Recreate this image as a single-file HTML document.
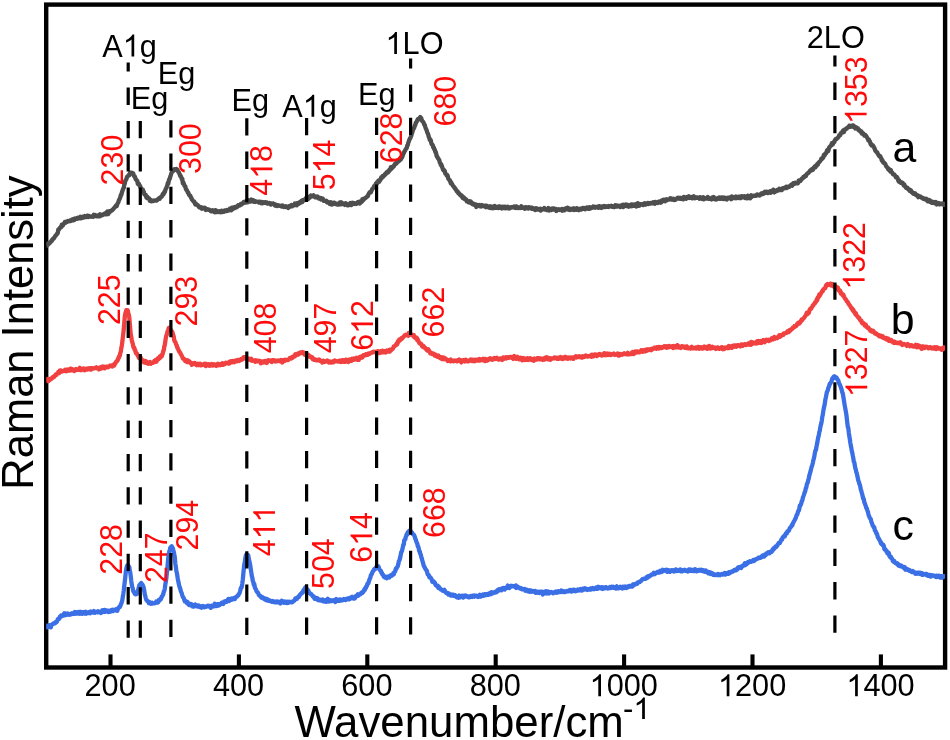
<!DOCTYPE html>
<html lang="en">
<head>
<meta charset="utf-8">
<title>Raman spectra</title>
<style>
  html, body { margin: 0; padding: 0; background: #ffffff; }
  body { width: 950px; height: 740px; overflow: hidden; font-family: "Liberation Sans", sans-serif; }
  svg { display: block; will-change: transform; }
  text { font-family: "Liberation Sans", sans-serif; }
  .tick { font-size: 30.7px; fill: #000; }
  .mode { font-size: 30.7px; fill: #000; }
  .peak { font-size: 30.4px; fill: #ff0a0a; }
  .ser  { font-size: 42.8px; fill: #000; }
  .axt  { font-size: 43.5px; fill: #000; }
  .curve { fill: none; stroke-width: 4.3; stroke-linejoin: round; stroke-linecap: butt; }
  .guide { stroke: #000; stroke-width: 3.2; fill: none; }
</style>
</head>
<body>
<svg width="950" height="740" viewBox="0 0 950 740">
<rect x="0" y="0" width="950" height="740" fill="#ffffff"/>
<defs><clipPath id="plot"><rect x="46.2" y="4.6" width="898.9" height="662.9"/></clipPath></defs>
<rect x="46.2" y="4.6" width="898.9" height="662.9" fill="none" stroke="#000" stroke-width="4.4"/>
<g clip-path="url(#plot)">
<path class="curve" stroke="#4e4e4e" d="M46.3 245.8L46.8 245.7L47.3 245.0L47.8 243.7L48.3 244.5L48.8 243.8L49.3 242.8L49.8 243.0L50.3 242.3L50.8 241.8L51.3 241.1L51.8 240.9L52.3 239.6L52.8 239.3L53.3 238.5L53.8 238.6L54.3 237.6L54.8 236.8L55.3 235.9L55.8 235.5L56.3 234.9L56.8 233.9L57.3 233.9L57.8 232.8L58.3 229.6L58.8 229.1L59.3 229.2L59.8 228.1L60.3 227.6L60.8 226.8L61.3 227.1L61.8 224.6L62.3 224.5L62.8 225.5L63.3 224.4L63.8 224.0L64.3 223.1L64.8 222.1L65.3 222.9L65.8 222.6L66.3 221.6L66.8 221.7L67.3 221.8L67.8 221.1L68.3 221.4L68.8 221.3L69.3 221.1L69.8 220.6L70.3 221.1L70.8 221.1L71.3 220.6L71.8 219.7L72.3 220.5L72.8 219.6L73.3 220.3L73.8 219.0L74.3 220.0L74.8 219.3L75.3 218.4L75.8 218.8L76.3 218.9L76.8 218.8L77.3 218.0L77.8 217.8L78.3 218.4L78.8 217.9L79.3 218.2L79.8 218.3L80.3 216.8L80.8 217.8L81.3 218.3L81.8 217.3L82.3 216.9L82.8 217.7L83.3 217.3L83.8 217.6L84.3 216.8L84.8 216.0L85.3 216.8L85.8 216.5L86.3 217.1L86.8 216.8L87.3 215.6L87.8 215.8L88.3 217.0L88.8 216.8L89.3 216.0L89.8 216.4L90.3 216.6L90.8 216.6L91.3 216.8L91.8 216.4L92.3 216.1L92.8 216.0L93.3 216.7L93.8 214.8L94.3 215.9L94.8 216.0L95.3 215.1L95.8 216.1L96.3 215.5L96.8 216.3L97.3 215.6L97.8 216.0L98.3 216.3L98.8 215.7L99.3 214.9L99.8 214.4L100.3 216.2L100.8 215.0L101.3 214.6L101.8 214.9L102.3 214.6L102.8 215.1L103.3 214.4L103.8 214.3L104.3 213.7L104.8 214.2L105.3 213.2L105.8 214.0L106.3 214.3L106.8 212.3L107.3 211.6L107.8 213.1L108.3 214.0L108.8 211.7L109.3 211.3L109.8 212.1L110.3 211.0L110.8 210.9L111.3 210.6L111.8 210.7L112.3 209.8L112.8 209.8L113.3 209.1L113.8 208.2L114.3 208.0L114.8 207.1L115.3 207.1L115.8 205.8L116.3 205.2L116.8 205.9L117.3 204.1L117.8 203.1L118.3 202.3L118.8 200.6L119.3 199.5L119.8 198.6L120.3 197.2L120.8 195.1L121.3 194.9L121.8 192.7L122.3 191.2L122.8 189.8L123.3 188.5L123.8 187.9L124.3 184.5L124.8 183.6L125.3 180.6L125.8 180.2L126.3 179.4L126.8 177.6L127.3 176.5L127.8 176.2L128.3 175.7L128.8 175.0L129.3 175.1L129.8 173.5L130.3 172.6L130.8 172.6L131.3 172.6L131.8 172.8L132.3 173.2L132.8 173.9L133.3 173.6L133.8 175.9L134.3 175.9L134.8 176.4L135.3 178.2L135.8 179.4L136.3 179.8L136.8 180.5L137.3 180.9L137.8 184.0L138.3 183.9L138.8 183.7L139.3 184.8L139.8 186.3L140.3 186.2L140.8 188.1L141.3 188.6L141.8 190.3L142.3 191.0L142.8 189.6L143.3 192.0L143.8 191.8L144.3 194.2L144.8 194.3L145.3 195.2L145.8 195.0L146.3 197.3L146.8 197.9L147.3 196.7L147.8 198.0L148.3 197.9L148.8 198.8L149.3 198.6L149.8 200.9L150.3 199.7L150.8 200.5L151.3 201.2L151.8 200.7L152.3 201.1L152.8 200.9L153.3 201.1L153.8 200.4L154.3 200.7L154.8 200.7L155.3 200.5L155.8 200.5L156.3 200.1L156.8 200.5L157.3 199.6L157.8 199.5L158.3 198.9L158.8 198.7L159.3 198.0L159.8 198.7L160.3 197.3L160.8 197.0L161.3 197.1L161.8 196.6L162.3 195.5L162.8 193.9L163.3 194.6L163.8 193.8L164.3 191.9L164.8 192.2L165.3 190.2L165.8 188.8L166.3 188.2L166.8 186.7L167.3 185.5L167.8 183.0L168.3 183.6L168.8 180.9L169.3 179.0L169.8 178.7L170.3 176.5L170.8 175.2L171.3 173.4L171.8 172.3L172.3 171.5L172.8 170.4L173.3 170.8L173.8 169.8L174.3 169.2L174.8 169.5L175.3 169.6L175.8 169.2L176.3 169.0L176.8 170.3L177.3 169.5L177.8 170.7L178.3 172.1L178.8 172.1L179.3 173.7L179.8 174.5L180.3 176.1L180.8 176.1L181.3 177.4L181.8 179.2L182.3 178.8L182.8 183.3L183.3 182.3L183.8 183.5L184.3 185.6L184.8 186.2L185.3 186.3L185.8 188.7L186.3 189.8L186.8 190.0L187.3 191.1L187.8 192.5L188.3 192.6L188.8 194.3L189.3 195.1L189.8 195.4L190.3 195.8L190.8 197.3L191.3 197.7L191.8 199.5L192.3 199.6L192.8 200.7L193.3 201.0L193.8 201.7L194.3 201.7L194.8 203.2L195.3 204.4L195.8 203.7L196.3 204.0L196.8 204.8L197.3 205.0L197.8 205.2L198.3 206.0L198.8 206.1L199.3 207.4L199.8 206.9L200.3 207.3L200.8 207.9L201.3 207.4L201.8 208.7L202.3 207.7L202.8 207.8L203.3 208.2L203.8 208.5L204.3 207.9L204.8 208.9L205.3 208.1L205.8 210.0L206.3 209.3L206.8 209.1L207.3 209.1L207.8 209.6L208.3 209.8L208.8 209.5L209.3 209.7L209.8 210.2L210.3 210.2L210.8 211.1L211.3 211.4L211.8 210.8L212.3 211.2L212.8 210.3L213.3 211.5L213.8 211.2L214.3 211.6L214.8 212.3L215.3 210.2L215.8 211.7L216.3 211.0L216.8 212.0L217.3 211.0L217.8 211.5L218.3 211.9L218.8 212.1L219.3 211.8L219.8 211.3L220.3 211.5L220.8 212.3L221.3 211.7L221.8 210.7L222.3 212.0L222.8 211.7L223.3 211.9L223.8 211.1L224.3 211.6L224.8 210.4L225.3 211.2L225.8 210.5L226.3 211.0L226.8 211.0L227.3 209.9L227.8 210.1L228.3 210.0L228.8 210.5L229.3 210.0L229.8 208.7L230.3 209.5L230.8 209.5L231.3 210.2L231.8 207.8L232.3 208.3L232.8 209.2L233.3 207.4L233.8 207.3L234.3 208.1L234.8 208.1L235.3 206.9L235.8 207.3L236.3 206.8L236.8 207.3L237.3 206.2L237.8 206.5L238.3 205.1L238.8 205.2L239.3 205.0L239.8 205.5L240.3 204.9L240.8 203.9L241.3 204.4L241.8 204.3L242.3 203.5L242.8 203.2L243.3 203.0L243.8 201.9L244.3 202.8L244.8 202.6L245.3 201.7L245.8 202.4L246.3 200.9L246.8 201.2L247.3 201.1L247.8 202.3L248.3 200.1L248.8 201.3L249.3 201.5L249.8 201.1L250.3 201.6L250.8 200.3L251.3 199.6L251.8 201.4L252.3 200.3L252.8 200.9L253.3 200.4L253.8 201.8L254.3 201.7L254.8 200.9L255.3 201.9L255.8 201.5L256.3 201.4L256.8 201.6L257.3 201.6L257.8 202.1L258.3 202.0L258.8 201.7L259.3 202.6L259.8 201.7L260.3 202.3L260.8 202.5L261.3 203.1L261.8 202.0L262.3 203.4L262.8 202.6L263.3 202.4L263.8 202.2L264.3 202.9L264.8 202.7L265.3 202.1L265.8 202.1L266.3 202.5L266.8 202.4L267.3 203.5L267.8 203.7L268.3 203.5L268.8 203.3L269.3 202.9L269.8 203.2L270.3 203.8L270.8 204.6L271.3 204.0L271.8 203.4L272.3 203.7L272.8 203.5L273.3 203.4L273.8 203.9L274.3 204.3L274.8 205.4L275.3 204.5L275.8 205.4L276.3 205.8L276.8 205.0L277.3 206.1L277.8 205.7L278.3 205.2L278.8 205.7L279.3 205.7L279.8 205.7L280.3 205.9L280.8 206.2L281.3 206.5L281.8 205.8L282.3 206.4L282.8 205.6L283.3 206.7L283.8 207.0L284.3 206.8L284.8 206.9L285.3 207.0L285.8 206.3L286.3 206.5L286.8 206.9L287.3 207.2L287.8 206.7L288.3 207.9L288.8 206.3L289.3 206.8L289.8 206.9L290.3 206.0L290.8 205.5L291.3 205.1L291.8 205.8L292.3 206.2L292.8 205.5L293.3 205.3L293.8 204.8L294.3 205.2L294.8 203.5L295.3 204.7L295.8 204.4L296.3 203.4L296.8 205.3L297.3 203.1L297.8 203.1L298.3 202.8L298.8 203.9L299.3 202.5L299.8 203.1L300.3 202.8L300.8 202.3L301.3 201.0L301.8 201.1L302.3 202.0L302.8 200.0L303.3 199.9L303.8 199.9L304.3 200.2L304.8 199.5L305.3 199.5L305.8 198.2L306.3 199.1L306.8 198.6L307.3 197.2L307.8 198.7L308.3 198.9L308.8 196.9L309.3 197.2L309.8 197.7L310.3 195.9L310.8 195.4L311.3 195.6L311.8 195.9L312.3 195.8L312.8 196.4L313.3 196.2L313.8 195.3L314.3 196.4L314.8 197.2L315.3 197.0L315.8 197.0L316.3 196.7L316.8 197.4L317.3 196.5L317.8 197.8L318.3 197.5L318.8 198.5L319.3 198.4L319.8 197.7L320.3 198.6L320.8 199.4L321.3 198.3L321.8 198.8L322.3 198.9L322.8 198.7L323.3 200.4L323.8 200.9L324.3 200.8L324.8 200.8L325.3 200.8L325.8 201.3L326.3 200.9L326.8 202.1L327.3 202.5L327.8 202.6L328.3 202.0L328.8 202.6L329.3 202.6L329.8 204.0L330.3 203.2L330.8 202.2L331.3 203.6L331.8 204.6L332.3 204.0L332.8 204.2L333.3 203.7L333.8 202.6L334.3 202.7L334.8 203.1L335.3 203.8L335.8 204.1L336.3 204.3L336.8 203.7L337.3 204.5L337.8 203.8L338.3 203.6L338.8 204.5L339.3 203.5L339.8 202.5L340.3 203.5L340.8 204.2L341.3 202.3L341.8 203.9L342.3 204.0L342.8 203.3L343.3 203.3L343.8 203.9L344.3 203.9L344.8 204.9L345.3 204.4L345.8 203.3L346.3 203.7L346.8 204.6L347.3 205.3L347.8 204.4L348.3 204.3L348.8 205.2L349.3 204.0L349.8 203.8L350.3 203.1L350.8 203.6L351.3 205.1L351.8 202.9L352.3 203.7L352.8 202.8L353.3 203.6L353.8 203.9L354.3 203.2L354.8 203.6L355.3 203.5L355.8 203.3L356.3 203.9L356.8 203.2L357.3 202.5L357.8 202.2L358.3 201.9L358.8 202.6L359.3 201.9L359.8 203.5L360.3 202.7L360.8 201.3L361.3 200.9L361.8 201.8L362.3 199.3L362.8 199.8L363.3 200.2L363.8 198.7L364.3 198.6L364.8 198.2L365.3 198.3L365.8 197.6L366.3 197.3L366.8 196.9L367.3 196.1L367.8 196.3L368.3 194.6L368.8 193.6L369.3 192.8L369.8 192.2L370.3 192.2L370.8 192.4L371.3 191.2L371.8 190.0L372.3 189.0L372.8 188.6L373.3 187.9L373.8 187.1L374.3 185.9L374.8 185.8L375.3 186.1L375.8 183.6L376.3 184.1L376.8 182.4L377.3 183.2L377.8 182.0L378.3 180.7L378.8 181.3L379.3 181.7L379.8 180.2L380.3 180.2L380.8 178.9L381.3 177.2L381.8 178.1L382.3 177.1L382.8 175.9L383.3 176.7L383.8 175.9L384.3 174.9L384.8 175.2L385.3 173.7L385.8 174.1L386.3 172.7L386.8 173.0L387.3 171.6L387.8 172.6L388.3 171.4L388.8 171.6L389.3 169.8L389.8 169.5L390.3 169.8L390.8 167.2L391.3 167.7L391.8 168.4L392.3 167.6L392.8 167.4L393.3 166.2L393.8 166.3L394.3 165.1L394.8 164.3L395.3 163.6L395.8 163.9L396.3 163.4L396.8 162.9L397.3 160.7L397.8 161.1L398.3 161.4L398.8 161.3L399.3 160.2L399.8 159.4L400.3 157.9L400.8 159.7L401.3 157.1L401.8 157.9L402.3 156.9L402.8 155.3L403.3 153.8L403.8 153.2L404.3 151.5L404.8 151.2L405.3 150.0L405.8 149.2L406.3 148.4L406.8 147.7L407.3 145.4L407.8 145.0L408.3 142.8L408.8 141.4L409.3 140.2L409.8 138.6L410.3 138.4L410.8 136.9L411.3 135.7L411.8 133.6L412.3 132.4L412.8 130.5L413.3 128.9L413.8 128.6L414.3 127.4L414.8 125.4L415.3 125.2L415.8 122.7L416.3 122.5L416.8 121.3L417.3 120.4L417.8 119.3L418.3 119.7L418.8 118.8L419.3 118.5L419.8 117.7L420.3 117.0L420.8 118.1L421.3 118.3L421.8 120.0L422.3 121.2L422.8 121.6L423.3 122.0L423.8 123.2L424.3 124.7L424.8 124.9L425.3 127.1L425.8 128.5L426.3 129.4L426.8 130.9L427.3 132.6L427.8 133.4L428.3 134.7L428.8 137.0L429.3 137.9L429.8 139.9L430.3 139.6L430.8 140.3L431.3 143.1L431.8 144.3L432.3 144.6L432.8 145.3L433.3 147.4L433.8 147.6L434.3 149.6L434.8 149.7L435.3 152.0L435.8 152.0L436.3 154.3L436.8 156.4L437.3 156.5L437.8 158.2L438.3 158.5L438.8 159.4L439.3 160.1L439.8 162.6L440.3 163.1L440.8 165.1L441.3 164.5L441.8 166.1L442.3 167.3L442.8 169.0L443.3 170.2L443.8 169.8L444.3 170.5L444.8 171.0L445.3 173.7L445.8 173.8L446.3 174.4L446.8 175.6L447.3 175.0L447.8 176.3L448.3 178.7L448.8 179.3L449.3 180.0L449.8 180.1L450.3 181.9L450.8 183.4L451.3 182.4L451.8 183.9L452.3 184.4L452.8 185.6L453.3 186.2L453.8 186.8L454.3 187.1L454.8 188.3L455.3 188.6L455.8 189.5L456.3 190.2L456.8 191.2L457.3 191.1L457.8 191.8L458.3 193.2L458.8 193.0L459.3 193.5L459.8 194.8L460.3 195.0L460.8 195.4L461.3 196.0L461.8 195.6L462.3 197.1L462.8 198.1L463.3 198.1L463.8 197.3L464.3 198.8L464.8 198.5L465.3 199.3L465.8 199.9L466.3 199.5L466.8 201.3L467.3 200.8L467.8 201.5L468.3 201.7L468.8 202.4L469.3 202.6L469.8 201.3L470.3 202.5L470.8 201.4L471.3 202.7L471.8 203.6L472.3 203.9L472.8 204.3L473.3 203.6L473.8 204.2L474.3 204.2L474.8 205.1L475.3 205.4L475.8 204.4L476.3 207.0L476.8 204.9L477.3 204.8L477.8 205.5L478.3 205.6L478.8 205.6L479.3 205.0L479.8 206.3L480.3 205.6L480.8 206.5L481.3 206.5L481.8 205.0L482.3 205.3L482.8 205.3L483.3 206.1L483.8 206.1L484.3 206.3L484.8 205.7L485.3 206.5L485.8 207.1L486.3 205.6L486.8 206.3L487.3 206.6L487.8 206.4L488.3 206.4L488.8 207.6L489.3 207.4L489.8 207.2L490.3 206.3L490.8 208.1L491.3 207.1L491.8 206.6L492.3 206.8L492.8 206.7L493.3 208.3L493.8 207.2L494.3 207.2L494.8 206.0L495.3 207.7L495.8 206.7L496.3 206.7L496.8 207.7L497.3 206.9L497.8 207.9L498.3 208.1L498.8 206.4L499.3 207.4L499.8 206.6L500.3 207.5L500.8 208.0L501.3 206.7L501.8 208.5L502.3 207.3L502.8 206.8L503.3 207.4L503.8 208.0L504.3 206.7L504.8 207.5L505.3 206.7L505.8 208.2L506.3 207.6L506.8 207.2L507.3 208.1L507.8 206.7L508.3 207.3L508.8 208.6L509.3 207.4L509.8 208.3L510.3 207.6L510.8 207.1L511.3 207.3L511.8 207.5L512.3 207.3L512.8 207.0L513.3 207.0L513.8 206.6L514.3 207.6L514.8 207.7L515.3 207.9L515.8 206.4L516.3 208.0L516.8 207.5L517.3 206.7L517.8 207.5L518.3 208.0L518.8 207.8L519.3 207.9L519.8 208.0L520.3 208.0L520.8 207.5L521.3 206.3L521.8 207.1L522.3 207.7L522.8 207.3L523.3 208.0L523.8 208.1L524.3 207.7L524.8 208.8L525.3 207.1L525.8 208.3L526.3 207.5L526.8 207.4L527.3 208.2L527.8 207.6L528.3 208.5L528.8 207.3L529.3 208.1L529.8 207.6L530.3 208.1L530.8 208.0L531.3 207.7L531.8 208.7L532.3 207.7L532.8 207.9L533.3 209.1L533.8 209.2L534.3 209.0L534.8 208.9L535.3 210.1L535.8 208.1L536.3 208.5L536.8 208.4L537.3 209.5L537.8 209.2L538.3 209.7L538.8 209.7L539.3 209.1L539.8 208.8L540.3 208.7L540.8 210.6L541.3 209.9L541.8 209.7L542.3 209.2L542.8 209.3L543.3 209.2L543.8 209.3L544.3 208.1L544.8 209.5L545.3 209.3L545.8 209.7L546.3 209.6L546.8 210.0L547.3 209.5L547.8 210.0L548.3 208.0L548.8 208.9L549.3 210.5L549.8 208.8L550.3 209.3L550.8 209.9L551.3 209.0L551.8 209.9L552.3 208.7L552.8 208.4L553.3 208.7L553.8 208.5L554.3 209.5L554.8 209.3L555.3 209.7L555.8 208.9L556.3 211.0L556.8 209.4L557.3 209.5L557.8 209.8L558.3 209.4L558.8 209.1L559.3 209.5L559.8 210.0L560.3 209.9L560.8 210.0L561.3 209.2L561.8 209.0L562.3 210.7L562.8 209.4L563.3 209.8L563.8 209.9L564.3 210.3L564.8 208.7L565.3 209.2L565.8 209.2L566.3 209.3L566.8 208.1L567.3 209.4L567.8 207.8L568.3 209.7L568.8 209.8L569.3 209.8L569.8 208.8L570.3 210.0L570.8 209.0L571.3 208.8L571.8 208.9L572.3 209.0L572.8 209.6L573.3 209.9L573.8 208.2L574.3 209.1L574.8 209.9L575.3 209.5L575.8 209.6L576.3 208.4L576.8 209.8L577.3 208.3L577.8 209.3L578.3 209.9L578.8 210.2L579.3 209.3L579.8 209.5L580.3 208.6L580.8 208.6L581.3 209.5L581.8 208.8L582.3 208.7L582.8 207.9L583.3 208.7L583.8 208.9L584.3 208.0L584.8 208.1L585.3 209.3L585.8 208.4L586.3 208.1L586.8 207.5L587.3 207.8L587.8 207.9L588.3 208.8L588.8 207.6L589.3 208.9L589.8 207.3L590.3 207.5L590.8 208.2L591.3 207.5L591.8 207.1L592.3 207.4L592.8 207.7L593.3 206.4L593.8 207.2L594.3 207.2L594.8 207.0L595.3 207.6L595.8 206.8L596.3 206.9L596.8 207.0L597.3 207.4L597.8 206.8L598.3 207.8L598.8 206.3L599.3 207.6L599.8 206.3L600.3 206.6L600.8 206.9L601.3 207.9L601.8 207.2L602.3 206.4L602.8 207.4L603.3 206.5L603.8 206.1L604.3 206.8L604.8 206.6L605.3 207.0L605.8 206.2L606.3 206.7L606.8 206.8L607.3 206.6L607.8 206.4L608.3 206.0L608.8 206.9L609.3 206.4L609.8 206.6L610.3 206.1L610.8 206.3L611.3 205.7L611.8 206.3L612.3 206.7L612.8 206.3L613.3 206.7L613.8 206.4L614.3 207.0L614.8 206.1L615.3 205.2L615.8 206.4L616.3 206.0L616.8 205.5L617.3 206.5L617.8 206.2L618.3 206.3L618.8 205.8L619.3 206.1L619.8 206.1L620.3 207.0L620.8 205.6L621.3 205.9L621.8 206.1L622.3 204.9L622.8 204.9L623.3 207.1L623.8 204.8L624.3 206.1L624.8 205.3L625.3 205.3L625.8 204.6L626.3 205.2L626.8 206.1L627.3 204.8L627.8 206.0L628.3 205.8L628.8 206.7L629.3 205.2L629.8 206.2L630.3 206.0L630.8 205.2L631.3 204.4L631.8 206.2L632.3 204.5L632.8 205.0L633.3 205.7L633.8 205.8L634.3 204.6L634.8 205.1L635.3 204.9L635.8 205.7L636.3 206.4L636.8 203.8L637.3 205.4L637.8 203.2L638.3 204.8L638.8 204.1L639.3 205.8L639.8 204.7L640.3 204.1L640.8 204.2L641.3 204.1L641.8 204.5L642.3 204.3L642.8 204.7L643.3 205.1L643.8 204.6L644.3 203.4L644.8 203.1L645.3 203.6L645.8 204.6L646.3 203.7L646.8 203.4L647.3 203.8L647.8 202.9L648.3 203.0L648.8 203.9L649.3 203.3L649.8 203.2L650.3 203.6L650.8 203.0L651.3 202.8L651.8 202.9L652.3 203.4L652.8 203.1L653.3 202.2L653.8 202.7L654.3 203.1L654.8 203.8L655.3 201.9L655.8 202.7L656.3 202.2L656.8 202.7L657.3 202.4L657.8 202.9L658.3 202.2L658.8 201.5L659.3 201.4L659.8 201.8L660.3 201.7L660.8 202.7L661.3 202.2L661.8 200.4L662.3 201.1L662.8 200.1L663.3 199.7L663.8 201.0L664.3 200.8L664.8 199.8L665.3 201.2L665.8 199.6L666.3 199.3L666.8 200.3L667.3 199.9L667.8 199.6L668.3 199.6L668.8 199.7L669.3 199.4L669.8 199.3L670.3 198.2L670.8 198.4L671.3 199.5L671.8 198.7L672.3 199.4L672.8 199.7L673.3 198.7L673.8 199.0L674.3 200.0L674.8 199.2L675.3 199.8L675.8 199.5L676.3 199.0L676.8 198.5L677.3 198.0L677.8 197.8L678.3 198.7L678.8 198.6L679.3 198.2L679.8 198.7L680.3 197.8L680.8 198.8L681.3 198.1L681.8 198.0L682.3 198.0L682.8 197.9L683.3 199.4L683.8 196.9L684.3 197.9L684.8 198.5L685.3 198.2L685.8 197.6L686.3 198.7L686.8 197.0L687.3 196.9L687.8 197.9L688.3 196.7L688.8 196.2L689.3 198.0L689.8 197.9L690.3 197.9L690.8 197.2L691.3 197.6L691.8 196.9L692.3 198.4L692.8 197.9L693.3 197.8L693.8 196.3L694.3 197.9L694.8 198.3L695.3 198.1L695.8 197.9L696.3 197.4L696.8 197.3L697.3 197.9L697.8 197.8L698.3 197.7L698.8 197.5L699.3 198.7L699.8 197.1L700.3 197.8L700.8 197.5L701.3 198.5L701.8 198.8L702.3 198.7L702.8 198.5L703.3 197.3L703.8 199.4L704.3 198.6L704.8 198.2L705.3 198.4L705.8 198.2L706.3 198.7L706.8 198.7L707.3 198.3L707.8 197.1L708.3 198.6L708.8 198.9L709.3 198.9L709.8 198.5L710.3 198.9L710.8 199.2L711.3 198.3L711.8 199.4L712.3 197.4L712.8 197.8L713.3 198.0L713.8 197.1L714.3 198.0L714.8 199.3L715.3 199.2L715.8 198.6L716.3 199.5L716.8 198.6L717.3 198.2L717.8 198.6L718.3 198.3L718.8 198.8L719.3 197.5L719.8 198.9L720.3 198.1L720.8 198.8L721.3 197.4L721.8 198.0L722.3 198.3L722.8 198.7L723.3 197.5L723.8 199.1L724.3 198.4L724.8 197.8L725.3 198.8L725.8 198.1L726.3 198.7L726.8 199.4L727.3 198.5L727.8 197.7L728.3 197.7L728.8 198.3L729.3 198.1L729.8 197.4L730.3 197.5L730.8 198.3L731.3 199.2L731.8 196.3L732.3 198.2L732.8 197.7L733.3 198.2L733.8 198.2L734.3 197.7L734.8 197.1L735.3 196.9L735.8 196.5L736.3 198.3L736.8 197.5L737.3 197.2L737.8 197.4L738.3 196.7L738.8 197.7L739.3 198.2L739.8 198.1L740.3 196.5L740.8 198.1L741.3 196.9L741.8 196.2L742.3 196.5L742.8 196.7L743.3 197.2L743.8 196.5L744.3 196.2L744.8 196.9L745.3 198.1L745.8 196.6L746.3 197.2L746.8 196.9L747.3 198.4L747.8 195.7L748.3 197.4L748.8 196.0L749.3 196.3L749.8 196.5L750.3 198.4L750.8 196.0L751.3 195.2L751.8 197.0L752.3 195.7L752.8 195.9L753.3 196.0L753.8 195.9L754.3 195.7L754.8 195.8L755.3 195.8L755.8 195.9L756.3 195.1L756.8 194.7L757.3 194.4L757.8 195.3L758.3 194.8L758.8 195.0L759.3 194.9L759.8 195.4L760.3 194.4L760.8 194.6L761.3 193.4L761.8 193.3L762.3 193.6L762.8 193.0L763.3 193.9L763.8 192.7L764.3 193.3L764.8 191.8L765.3 192.4L765.8 192.8L766.3 192.7L766.8 191.7L767.3 192.7L767.8 193.1L768.3 192.8L768.8 191.9L769.3 191.8L769.8 191.4L770.3 192.3L770.8 192.7L771.3 191.4L771.8 190.7L772.3 191.7L772.8 191.8L773.3 189.7L773.8 191.3L774.3 192.4L774.8 191.5L775.3 191.2L775.8 191.0L776.3 191.2L776.8 190.0L777.3 189.9L777.8 190.5L778.3 189.7L778.8 190.2L779.3 188.8L779.8 190.2L780.3 190.1L780.8 189.5L781.3 189.4L781.8 190.1L782.3 188.4L782.8 188.3L783.3 188.1L783.8 188.3L784.3 187.8L784.8 188.2L785.3 187.6L785.8 187.0L786.3 186.7L786.8 188.1L787.3 187.2L787.8 186.9L788.3 186.8L788.8 186.5L789.3 186.8L789.8 186.4L790.3 185.5L790.8 185.2L791.3 184.8L791.8 184.4L792.3 185.7L792.8 184.1L793.3 183.2L793.8 183.6L794.3 183.4L794.8 183.7L795.3 182.7L795.8 183.3L796.3 182.9L796.8 183.1L797.3 183.3L797.8 183.3L798.3 182.1L798.8 180.3L799.3 180.4L799.8 180.4L800.3 181.1L800.8 179.9L801.3 179.8L801.8 178.6L802.3 178.6L802.8 178.2L803.3 177.1L803.8 177.4L804.3 177.1L804.8 176.0L805.3 176.2L805.8 176.2L806.3 174.8L806.8 174.3L807.3 173.7L807.8 173.1L808.3 173.1L808.8 172.3L809.3 171.9L809.8 171.2L810.3 170.3L810.8 170.2L811.3 170.5L811.8 169.1L812.3 169.0L812.8 169.9L813.3 169.1L813.8 167.5L814.3 167.8L814.8 166.6L815.3 167.4L815.8 165.6L816.3 165.5L816.8 165.7L817.3 163.9L817.8 164.6L818.3 162.8L818.8 162.8L819.3 161.9L819.8 161.4L820.3 160.9L820.8 160.1L821.3 158.8L821.8 159.2L822.3 158.4L822.8 158.0L823.3 157.4L823.8 155.0L824.3 155.8L824.8 155.1L825.3 153.3L825.8 153.4L826.3 153.0L826.8 151.1L827.3 149.9L827.8 149.7L828.3 150.9L828.8 148.7L829.3 147.2L829.8 147.1L830.3 146.1L830.8 145.8L831.3 145.4L831.8 143.2L832.3 144.3L832.8 144.3L833.3 142.7L833.8 142.0L834.3 142.2L834.8 140.3L835.3 139.7L835.8 139.0L836.3 139.1L836.8 138.8L837.3 137.9L837.8 137.7L838.3 137.3L838.8 136.4L839.3 135.1L839.8 134.8L840.3 135.1L840.8 133.2L841.3 133.1L841.8 132.4L842.3 132.0L842.8 131.0L843.3 130.4L843.8 132.2L844.3 130.8L844.8 129.4L845.3 129.4L845.8 129.4L846.3 128.4L846.8 128.6L847.3 127.6L847.8 127.5L848.3 127.4L848.8 127.0L849.3 125.6L849.8 126.9L850.3 126.8L850.8 126.8L851.3 125.9L851.8 126.6L852.3 126.5L852.8 125.4L853.3 125.3L853.8 127.0L854.3 126.3L854.8 127.7L855.3 128.5L855.8 127.2L856.3 127.3L856.8 128.1L857.3 128.8L857.8 128.2L858.3 130.0L858.8 130.3L859.3 130.6L859.8 130.3L860.3 131.6L860.8 132.0L861.3 131.2L861.8 133.6L862.3 132.7L862.8 133.5L863.3 133.5L863.8 134.5L864.3 135.5L864.8 134.8L865.3 134.9L865.8 136.1L866.3 136.2L866.8 137.1L867.3 138.0L867.8 138.7L868.3 140.2L868.8 139.5L869.3 141.0L869.8 141.2L870.3 143.1L870.8 144.5L871.3 144.0L871.8 145.5L872.3 145.0L872.8 145.2L873.3 146.2L873.8 146.8L874.3 148.0L874.8 149.1L875.3 150.7L875.8 151.2L876.3 151.8L876.8 152.1L877.3 152.6L877.8 153.8L878.3 154.6L878.8 155.4L879.3 156.2L879.8 156.6L880.3 156.3L880.8 157.5L881.3 158.4L881.8 160.6L882.3 160.1L882.8 161.4L883.3 162.6L883.8 162.6L884.3 162.9L884.8 163.7L885.3 163.9L885.8 165.3L886.3 166.5L886.8 166.8L887.3 167.6L887.8 168.2L888.3 169.5L888.8 168.6L889.3 169.7L889.8 170.6L890.3 171.5L890.8 170.0L891.3 171.7L891.8 172.4L892.3 172.5L892.8 174.2L893.3 174.4L893.8 174.6L894.3 174.5L894.8 175.2L895.3 175.9L895.8 177.3L896.3 176.9L896.8 176.9L897.3 177.8L897.8 178.8L898.3 180.6L898.8 181.6L899.3 180.4L899.8 181.7L900.3 182.5L900.8 182.9L901.3 182.6L901.8 182.4L902.3 183.3L902.8 183.0L903.3 184.7L903.8 185.4L904.3 184.4L904.8 185.9L905.3 186.5L905.8 187.5L906.3 188.0L906.8 188.1L907.3 187.7L907.8 188.3L908.3 189.6L908.8 189.0L909.3 189.7L909.8 191.1L910.3 190.6L910.8 190.2L911.3 191.2L911.8 192.2L912.3 192.1L912.8 193.2L913.3 193.7L913.8 192.9L914.3 193.4L914.8 193.9L915.3 193.6L915.8 194.9L916.3 194.9L916.8 195.7L917.3 195.2L917.8 195.3L918.3 197.2L918.8 195.9L919.3 196.3L919.8 196.5L920.3 197.0L920.8 196.8L921.3 197.6L921.8 197.4L922.3 197.8L922.8 198.5L923.3 198.9L923.8 199.0L924.3 198.5L924.8 199.4L925.3 199.3L925.8 199.5L926.3 198.8L926.8 200.3L927.3 200.1L927.8 201.3L928.3 200.9L928.8 200.0L929.3 200.0L929.8 201.7L930.3 200.7L930.8 201.7L931.3 201.3L931.8 202.8L932.3 201.8L932.8 202.8L933.3 202.8L933.8 201.9L934.3 202.1L934.8 203.3L935.3 202.5L935.8 202.1L936.3 203.5L936.8 204.4L937.3 203.0L937.8 203.9L938.3 203.1L938.8 204.1L939.3 203.3L939.8 204.4L940.3 204.0L940.8 203.7L941.3 204.1L941.8 203.7L942.3 203.5L942.8 203.7L943.3 204.4L943.8 203.9L944.3 204.9L944.8 205.1L944.9 205.1"/>
<path class="curve" stroke="#f14040" d="M46.3 381.1L46.8 380.5L47.3 380.3L47.8 378.9L48.3 381.2L48.8 380.5L49.3 379.4L49.8 379.8L50.3 379.2L50.8 378.5L51.3 379.0L51.8 378.0L52.3 377.7L52.8 377.1L53.3 377.5L53.8 376.8L54.3 376.8L54.8 375.7L55.3 375.7L55.8 374.6L56.3 375.1L56.8 374.2L57.3 373.7L57.8 373.3L58.3 372.0L58.8 372.6L59.3 373.0L59.8 370.6L60.3 370.4L60.8 370.4L61.3 371.6L61.8 371.1L62.3 371.5L62.8 371.2L63.3 370.8L63.8 370.7L64.3 370.4L64.8 370.9L65.3 369.7L65.8 370.0L66.3 370.3L66.8 371.2L67.3 369.6L67.8 369.4L68.3 369.6L68.8 370.5L69.3 369.7L69.8 370.6L70.3 368.7L70.8 370.4L71.3 370.3L71.8 368.9L72.3 369.8L72.8 370.3L73.3 369.7L73.8 370.2L74.3 370.9L74.8 369.7L75.3 369.4L75.8 369.1L76.3 369.9L76.8 369.3L77.3 369.3L77.8 369.4L78.3 369.8L78.8 368.8L79.3 368.5L79.8 367.9L80.3 370.0L80.8 369.4L81.3 370.2L81.8 369.3L82.3 368.8L82.8 369.5L83.3 369.2L83.8 368.5L84.3 368.7L84.8 370.2L85.3 369.3L85.8 369.3L86.3 368.9L86.8 368.6L87.3 369.5L87.8 368.9L88.3 368.5L88.8 368.8L89.3 368.3L89.8 368.9L90.3 369.4L90.8 368.3L91.3 369.5L91.8 368.3L92.3 368.7L92.8 368.1L93.3 368.4L93.8 368.5L94.3 368.2L94.8 368.0L95.3 368.0L95.8 367.8L96.3 367.4L96.8 368.1L97.3 368.4L97.8 368.6L98.3 368.4L98.8 369.4L99.3 368.1L99.8 367.6L100.3 368.9L100.8 367.2L101.3 368.3L101.8 367.1L102.3 367.8L102.8 366.4L103.3 368.0L103.8 367.3L104.3 366.8L104.8 368.3L105.3 367.7L105.8 367.2L106.3 366.7L106.8 367.0L107.3 366.8L107.8 367.3L108.3 367.2L108.8 366.3L109.3 366.2L109.8 366.1L110.3 365.5L110.8 365.8L111.3 366.0L111.8 366.3L112.3 366.5L112.8 365.0L113.3 365.5L113.8 364.5L114.3 365.5L114.8 363.8L115.3 363.6L115.8 362.2L116.3 361.6L116.8 361.5L117.3 360.5L117.8 360.1L118.3 357.9L118.8 358.0L119.3 355.8L119.8 355.8L120.3 352.9L120.8 351.8L121.3 348.1L121.8 346.1L122.3 341.7L122.8 337.8L123.3 333.7L123.8 328.8L124.3 322.5L124.8 316.5L125.3 313.7L125.8 311.9L126.3 310.2L126.8 310.1L127.3 310.7L127.8 310.5L128.3 313.6L128.8 314.7L129.3 317.6L129.8 323.7L130.3 329.7L130.8 334.6L131.3 337.0L131.8 340.2L132.3 342.5L132.8 343.7L133.3 346.6L133.8 347.8L134.3 347.7L134.8 350.1L135.3 350.4L135.8 352.8L136.3 353.6L136.8 353.4L137.3 354.4L137.8 355.7L138.3 356.2L138.8 357.9L139.3 358.0L139.8 357.9L140.3 358.9L140.8 357.8L141.3 359.6L141.8 360.3L142.3 360.1L142.8 360.1L143.3 361.2L143.8 362.3L144.3 361.5L144.8 361.0L145.3 362.7L145.8 361.0L146.3 362.6L146.8 362.2L147.3 363.3L147.8 362.4L148.3 363.8L148.8 363.3L149.3 362.2L149.8 362.0L150.3 362.9L150.8 363.8L151.3 362.9L151.8 362.7L152.3 362.4L152.8 362.7L153.3 362.3L153.8 362.0L154.3 361.0L154.8 362.0L155.3 361.8L155.8 360.0L156.3 361.8L156.8 360.6L157.3 359.6L157.8 358.4L158.3 359.4L158.8 358.9L159.3 357.8L159.8 356.6L160.3 357.7L160.8 356.0L161.3 355.3L161.8 356.3L162.3 354.9L162.8 353.1L163.3 351.0L163.8 350.2L164.3 346.4L164.8 345.0L165.3 341.4L165.8 338.2L166.3 335.6L166.8 334.7L167.3 332.4L167.8 330.6L168.3 329.6L168.8 327.9L169.3 327.8L169.8 327.7L170.3 329.0L170.8 330.3L171.3 330.4L171.8 331.7L172.3 331.8L172.8 333.8L173.3 335.3L173.8 336.9L174.3 340.5L174.8 341.5L175.3 342.0L175.8 343.3L176.3 345.0L176.8 345.5L177.3 347.8L177.8 348.0L178.3 349.7L178.8 350.4L179.3 351.7L179.8 352.2L180.3 352.8L180.8 354.0L181.3 354.9L181.8 355.9L182.3 356.9L182.8 358.4L183.3 358.7L183.8 358.7L184.3 359.8L184.8 359.5L185.3 361.2L185.8 361.1L186.3 360.3L186.8 361.8L187.3 362.1L187.8 360.3L188.3 361.6L188.8 362.0L189.3 361.3L189.8 362.0L190.3 362.3L190.8 363.3L191.3 363.3L191.8 364.8L192.3 363.2L192.8 364.2L193.3 363.7L193.8 363.9L194.3 363.2L194.8 362.9L195.3 363.6L195.8 364.6L196.3 365.1L196.8 364.6L197.3 364.6L197.8 363.8L198.3 365.2L198.8 365.2L199.3 364.1L199.8 364.5L200.3 363.9L200.8 365.4L201.3 364.8L201.8 364.6L202.3 364.9L202.8 365.0L203.3 364.5L203.8 364.0L204.3 364.0L204.8 363.8L205.3 365.1L205.8 366.1L206.3 363.9L206.8 365.0L207.3 365.2L207.8 364.4L208.3 365.1L208.8 364.3L209.3 365.7L209.8 364.6L210.3 365.0L210.8 365.4L211.3 364.7L211.8 364.0L212.3 364.7L212.8 365.4L213.3 364.9L213.8 365.1L214.3 364.3L214.8 365.0L215.3 365.3L215.8 364.8L216.3 365.9L216.8 364.6L217.3 364.1L217.8 363.7L218.3 365.2L218.8 364.5L219.3 365.0L219.8 364.6L220.3 365.2L220.8 364.9L221.3 363.9L221.8 364.2L222.3 364.6L222.8 363.2L223.3 364.7L223.8 364.4L224.3 364.2L224.8 363.5L225.3 363.7L225.8 362.8L226.3 363.3L226.8 362.9L227.3 363.2L227.8 362.8L228.3 363.1L228.8 363.6L229.3 362.0L229.8 363.2L230.3 361.4L230.8 361.2L231.3 362.3L231.8 362.2L232.3 362.3L232.8 361.0L233.3 361.8L233.8 361.8L234.3 362.3L234.8 361.3L235.3 361.6L235.8 360.5L236.3 360.8L236.8 360.5L237.3 361.1L237.8 359.9L238.3 359.8L238.8 360.5L239.3 361.0L239.8 360.1L240.3 359.8L240.8 359.2L241.3 359.7L241.8 359.1L242.3 359.5L242.8 358.5L243.3 357.5L243.8 357.6L244.3 357.2L244.8 357.1L245.3 358.6L245.8 358.5L246.3 357.5L246.8 359.5L247.3 358.9L247.8 358.5L248.3 359.6L248.8 359.5L249.3 359.3L249.8 358.8L250.3 360.1L250.8 360.3L251.3 358.8L251.8 360.7L252.3 360.8L252.8 360.3L253.3 360.7L253.8 360.6L254.3 360.4L254.8 360.7L255.3 361.8L255.8 360.3L256.3 361.3L256.8 361.4L257.3 360.9L257.8 361.2L258.3 360.7L258.8 361.0L259.3 361.6L259.8 361.8L260.3 361.1L260.8 363.4L261.3 361.4L261.8 361.8L262.3 361.6L262.8 361.5L263.3 362.4L263.8 361.4L264.3 362.4L264.8 362.3L265.3 361.0L265.8 362.1L266.3 361.1L266.8 363.0L267.3 361.2L267.8 360.8L268.3 360.2L268.8 360.5L269.3 360.9L269.8 360.6L270.3 360.5L270.8 360.8L271.3 361.0L271.8 362.0L272.3 360.1L272.8 360.8L273.3 360.5L273.8 360.2L274.3 360.3L274.8 360.5L275.3 361.4L275.8 360.9L276.3 360.7L276.8 361.3L277.3 361.1L277.8 360.8L278.3 361.1L278.8 360.4L279.3 361.2L279.8 361.1L280.3 360.6L280.8 360.1L281.3 361.7L281.8 360.8L282.3 362.5L282.8 360.3L283.3 361.1L283.8 360.3L284.3 360.6L284.8 360.9L285.3 359.8L285.8 360.1L286.3 360.1L286.8 359.9L287.3 360.0L287.8 360.1L288.3 359.8L288.8 359.2L289.3 358.7L289.8 358.0L290.3 358.0L290.8 357.9L291.3 358.4L291.8 357.6L292.3 356.9L292.8 357.7L293.3 356.6L293.8 356.3L294.3 356.3L294.8 356.4L295.3 354.3L295.8 354.7L296.3 355.1L296.8 354.5L297.3 353.9L297.8 353.8L298.3 354.6L298.8 353.3L299.3 353.7L299.8 353.5L300.3 352.6L300.8 353.0L301.3 352.4L301.8 352.3L302.3 352.0L302.8 353.3L303.3 352.7L303.8 352.8L304.3 352.7L304.8 354.7L305.3 354.4L305.8 354.1L306.3 354.1L306.8 353.8L307.3 355.1L307.8 355.4L308.3 354.7L308.8 356.6L309.3 356.7L309.8 356.0L310.3 356.6L310.8 357.0L311.3 357.7L311.8 357.8L312.3 357.3L312.8 359.3L313.3 358.9L313.8 359.7L314.3 359.9L314.8 359.2L315.3 359.7L315.8 360.1L316.3 360.3L316.8 359.9L317.3 359.8L317.8 360.3L318.3 360.0L318.8 360.3L319.3 359.5L319.8 360.9L320.3 360.4L320.8 360.8L321.3 361.2L321.8 361.5L322.3 362.5L322.8 361.6L323.3 360.7L323.8 361.7L324.3 361.3L324.8 361.9L325.3 361.3L325.8 361.3L326.3 361.4L326.8 361.3L327.3 360.6L327.8 361.3L328.3 361.7L328.8 362.4L329.3 361.5L329.8 361.4L330.3 362.0L330.8 361.9L331.3 362.5L331.8 361.9L332.3 361.6L332.8 362.3L333.3 362.4L333.8 361.3L334.3 361.6L334.8 360.5L335.3 361.3L335.8 360.9L336.3 361.3L336.8 361.1L337.3 361.3L337.8 361.3L338.3 361.6L338.8 361.4L339.3 360.9L339.8 360.5L340.3 361.9L340.8 362.0L341.3 360.9L341.8 361.5L342.3 360.2L342.8 360.2L343.3 360.9L343.8 361.8L344.3 360.3L344.8 360.4L345.3 361.8L345.8 359.7L346.3 361.1L346.8 360.9L347.3 360.5L347.8 360.6L348.3 362.0L348.8 359.7L349.3 360.1L349.8 360.1L350.3 359.8L350.8 359.3L351.3 360.9L351.8 360.0L352.3 358.8L352.8 359.3L353.3 359.9L353.8 359.8L354.3 358.6L354.8 359.3L355.3 359.4L355.8 359.3L356.3 359.2L356.8 357.8L357.3 359.8L357.8 358.7L358.3 359.4L358.8 359.8L359.3 357.9L359.8 357.0L360.3 358.0L360.8 357.2L361.3 356.8L361.8 356.2L362.3 357.6L362.8 356.1L363.3 355.3L363.8 355.6L364.3 355.0L364.8 355.5L365.3 354.9L365.8 354.4L366.3 355.1L366.8 354.2L367.3 354.8L367.8 354.8L368.3 353.7L368.8 353.3L369.3 353.5L369.8 353.7L370.3 353.0L370.8 352.9L371.3 352.6L371.8 352.6L372.3 352.7L372.8 351.8L373.3 351.8L373.8 352.1L374.3 351.7L374.8 352.1L375.3 352.3L375.8 352.0L376.3 351.6L376.8 351.5L377.3 353.0L377.8 352.5L378.3 351.3L378.8 351.5L379.3 353.0L379.8 352.8L380.3 352.0L380.8 352.6L381.3 351.0L381.8 351.9L382.3 352.3L382.8 350.8L383.3 351.4L383.8 352.2L384.3 352.4L384.8 351.3L385.3 351.8L385.8 352.4L386.3 351.2L386.8 350.5L387.3 351.1L387.8 350.7L388.3 351.5L388.8 350.7L389.3 349.9L389.8 351.6L390.3 349.7L390.8 350.0L391.3 349.9L391.8 349.7L392.3 348.9L392.8 348.7L393.3 347.8L393.8 346.5L394.3 346.6L394.8 346.1L395.3 345.6L395.8 345.2L396.3 344.1L396.8 344.6L397.3 344.2L397.8 341.4L398.3 342.1L398.8 341.1L399.3 339.4L399.8 340.6L400.3 339.5L400.8 339.1L401.3 338.3L401.8 338.8L402.3 338.4L402.8 337.3L403.3 337.1L403.8 336.2L404.3 336.0L404.8 335.2L405.3 335.4L405.8 334.7L406.3 335.1L406.8 335.2L407.3 334.7L407.8 335.1L408.3 335.8L408.8 333.0L409.3 334.2L409.8 334.0L410.3 334.2L410.8 333.9L411.3 334.9L411.8 335.0L412.3 335.1L412.8 335.7L413.3 335.8L413.8 335.1L414.3 337.4L414.8 337.0L415.3 337.1L415.8 338.3L416.3 338.3L416.8 337.9L417.3 340.3L417.8 339.4L418.3 340.8L418.8 341.7L419.3 343.0L419.8 343.5L420.3 343.4L420.8 343.5L421.3 344.2L421.8 345.5L422.3 346.4L422.8 346.1L423.3 345.9L423.8 347.4L424.3 347.0L424.8 347.4L425.3 348.0L425.8 348.9L426.3 349.2L426.8 350.0L427.3 350.6L427.8 350.6L428.3 349.3L428.8 350.1L429.3 351.5L429.8 351.8L430.3 353.4L430.8 352.5L431.3 352.8L431.8 353.7L432.3 354.1L432.8 353.6L433.3 354.3L433.8 353.7L434.3 354.1L434.8 355.6L435.3 354.4L435.8 356.0L436.3 356.1L436.8 356.4L437.3 356.8L437.8 356.8L438.3 355.5L438.8 356.3L439.3 356.8L439.8 357.9L440.3 356.9L440.8 357.3L441.3 357.7L441.8 358.9L442.3 357.4L442.8 357.7L443.3 359.0L443.8 357.6L444.3 359.2L444.8 358.9L445.3 358.4L445.8 359.3L446.3 359.1L446.8 359.9L447.3 360.2L447.8 361.0L448.3 360.2L448.8 360.4L449.3 360.1L449.8 360.5L450.3 361.2L450.8 359.5L451.3 361.1L451.8 360.4L452.3 360.7L452.8 360.9L453.3 361.2L453.8 360.8L454.3 360.5L454.8 360.9L455.3 360.7L455.8 360.6L456.3 360.8L456.8 361.2L457.3 360.8L457.8 360.8L458.3 359.9L458.8 360.6L459.3 359.6L459.8 361.1L460.3 360.1L460.8 361.4L461.3 362.4L461.8 360.4L462.3 361.4L462.8 360.8L463.3 360.3L463.8 360.1L464.3 360.9L464.8 361.4L465.3 360.8L465.8 359.7L466.3 359.9L466.8 360.4L467.3 361.3L467.8 360.7L468.3 360.7L468.8 361.2L469.3 360.3L469.8 360.4L470.3 360.3L470.8 359.4L471.3 360.7L471.8 360.6L472.3 361.0L472.8 359.7L473.3 359.9L473.8 360.9L474.3 360.5L474.8 361.1L475.3 359.8L475.8 360.4L476.3 359.8L476.8 360.4L477.3 359.9L477.8 360.5L478.3 360.7L478.8 360.5L479.3 359.0L479.8 360.6L480.3 360.2L480.8 359.3L481.3 359.4L481.8 359.9L482.3 360.2L482.8 359.5L483.3 358.8L483.8 359.9L484.3 359.8L484.8 361.1L485.3 358.9L485.8 361.0L486.3 360.5L486.8 359.7L487.3 360.4L487.8 359.5L488.3 360.0L488.8 358.9L489.3 359.4L489.8 358.7L490.3 358.3L490.8 359.0L491.3 358.8L491.8 359.5L492.3 359.8L492.8 359.0L493.3 359.1L493.8 359.1L494.3 358.0L494.8 359.1L495.3 358.9L495.8 358.9L496.3 358.2L496.8 357.7L497.3 358.7L497.8 358.9L498.3 359.5L498.8 359.3L499.3 359.5L499.8 358.8L500.3 359.2L500.8 358.4L501.3 358.8L501.8 358.9L502.3 359.9L502.8 358.4L503.3 357.4L503.8 358.9L504.3 357.6L504.8 357.9L505.3 357.7L505.8 357.3L506.3 358.5L506.8 358.0L507.3 357.2L507.8 357.6L508.3 357.2L508.8 357.8L509.3 357.2L509.8 357.0L510.3 357.0L510.8 357.2L511.3 357.6L511.8 356.9L512.3 357.4L512.8 357.8L513.3 358.9L513.8 358.1L514.3 356.0L514.8 357.5L515.3 357.6L515.8 358.1L516.3 358.9L516.8 358.5L517.3 356.8L517.8 358.4L518.3 358.4L518.8 358.7L519.3 359.3L519.8 358.0L520.3 359.3L520.8 357.8L521.3 358.8L521.8 359.1L522.3 360.3L522.8 358.6L523.3 358.0L523.8 359.5L524.3 358.7L524.8 360.0L525.3 358.7L525.8 358.6L526.3 359.8L526.8 359.1L527.3 359.7L527.8 358.3L528.3 360.0L528.8 358.7L529.3 359.6L529.8 358.5L530.3 358.2L530.8 358.9L531.3 359.2L531.8 360.0L532.3 359.2L532.8 359.5L533.3 359.4L533.8 360.8L534.3 358.5L534.8 359.7L535.3 358.9L535.8 359.1L536.3 358.7L536.8 359.6L537.3 358.2L537.8 358.2L538.3 358.8L538.8 358.2L539.3 359.3L539.8 359.4L540.3 358.4L540.8 359.3L541.3 358.5L541.8 358.8L542.3 358.8L542.8 359.9L543.3 358.8L543.8 358.3L544.3 358.2L544.8 359.5L545.3 357.8L545.8 358.5L546.3 358.5L546.8 357.3L547.3 358.4L547.8 359.3L548.3 358.8L548.8 358.1L549.3 359.0L549.8 358.9L550.3 359.8L550.8 358.2L551.3 358.4L551.8 358.6L552.3 358.5L552.8 358.6L553.3 358.5L553.8 358.1L554.3 357.6L554.8 358.1L555.3 357.6L555.8 357.8L556.3 358.1L556.8 358.7L557.3 358.9L557.8 357.7L558.3 358.5L558.8 358.8L559.3 358.3L559.8 357.3L560.3 357.0L560.8 358.7L561.3 358.7L561.8 358.3L562.3 357.5L562.8 359.0L563.3 358.8L563.8 358.0L564.3 357.9L564.8 356.9L565.3 358.4L565.8 357.0L566.3 358.3L566.8 358.3L567.3 357.9L567.8 358.8L568.3 357.6L568.8 358.1L569.3 358.2L569.8 357.9L570.3 357.5L570.8 358.4L571.3 357.9L571.8 357.5L572.3 357.5L572.8 357.6L573.3 358.9L573.8 357.6L574.3 357.3L574.8 356.8L575.3 356.7L575.8 356.3L576.3 357.5L576.8 357.3L577.3 356.7L577.8 356.4L578.3 357.0L578.8 356.8L579.3 356.3L579.8 357.2L580.3 357.1L580.8 356.9L581.3 357.4L581.8 356.5L582.3 357.6L582.8 356.2L583.3 357.0L583.8 357.0L584.3 356.4L584.8 356.7L585.3 355.7L585.8 355.5L586.3 356.2L586.8 355.9L587.3 356.6L587.8 356.2L588.3 356.5L588.8 356.2L589.3 356.1L589.8 356.0L590.3 355.6L590.8 355.5L591.3 356.9L591.8 354.7L592.3 355.5L592.8 356.2L593.3 355.8L593.8 356.3L594.3 355.7L594.8 354.6L595.3 355.1L595.8 354.5L596.3 355.8L596.8 356.0L597.3 354.9L597.8 355.4L598.3 354.8L598.8 354.2L599.3 354.7L599.8 354.0L600.3 354.6L600.8 355.0L601.3 355.3L601.8 355.6L602.3 354.6L602.8 354.9L603.3 355.0L603.8 355.1L604.3 353.1L604.8 354.3L605.3 355.2L605.8 354.0L606.3 354.8L606.8 355.1L607.3 353.5L607.8 354.5L608.3 354.8L608.8 354.6L609.3 353.7L609.8 354.8L610.3 354.2L610.8 355.0L611.3 354.8L611.8 354.2L612.3 354.6L612.8 354.1L613.3 354.1L613.8 353.6L614.3 354.3L614.8 354.9L615.3 354.5L615.8 354.4L616.3 354.1L616.8 354.1L617.3 354.8L617.8 353.5L618.3 355.6L618.8 354.3L619.3 355.6L619.8 355.0L620.3 354.1L620.8 354.7L621.3 354.4L621.8 354.5L622.3 354.7L622.8 353.9L623.3 353.8L623.8 353.9L624.3 353.3L624.8 354.0L625.3 354.2L625.8 354.2L626.3 354.1L626.8 353.8L627.3 354.4L627.8 352.7L628.3 353.6L628.8 353.6L629.3 354.3L629.8 354.1L630.3 354.1L630.8 353.6L631.3 354.0L631.8 352.8L632.3 353.4L632.8 352.0L633.3 354.1L633.8 354.0L634.3 352.6L634.8 352.4L635.3 351.5L635.8 351.8L636.3 352.6L636.8 352.4L637.3 351.5L637.8 352.0L638.3 351.8L638.8 352.3L639.3 352.4L639.8 351.7L640.3 351.8L640.8 351.6L641.3 350.3L641.8 351.6L642.3 351.3L642.8 351.7L643.3 350.1L643.8 351.4L644.3 350.5L644.8 350.9L645.3 351.3L645.8 349.6L646.3 349.6L646.8 350.8L647.3 349.4L647.8 349.3L648.3 350.1L648.8 349.5L649.3 349.9L649.8 349.5L650.3 349.2L650.8 349.6L651.3 350.2L651.8 348.7L652.3 349.5L652.8 349.2L653.3 348.5L653.8 348.6L654.3 347.7L654.8 347.8L655.3 348.2L655.8 348.0L656.3 348.7L656.8 347.1L657.3 347.7L657.8 347.4L658.3 347.7L658.8 348.4L659.3 347.0L659.8 348.1L660.3 347.2L660.8 347.3L661.3 348.1L661.8 347.3L662.3 347.8L662.8 347.4L663.3 347.2L663.8 347.1L664.3 346.2L664.8 346.8L665.3 347.3L665.8 347.3L666.3 346.2L666.8 347.7L667.3 347.4L667.8 346.3L668.3 346.4L668.8 347.3L669.3 345.9L669.8 346.5L670.3 346.9L670.8 346.8L671.3 346.8L671.8 347.1L672.3 346.3L672.8 346.5L673.3 348.0L673.8 346.0L674.3 346.5L674.8 346.8L675.3 346.4L675.8 347.4L676.3 346.8L676.8 347.2L677.3 345.2L677.8 347.4L678.3 347.4L678.8 346.3L679.3 347.5L679.8 347.0L680.3 347.4L680.8 347.9L681.3 346.9L681.8 346.3L682.3 346.9L682.8 346.3L683.3 346.6L683.8 346.6L684.3 346.7L684.8 347.8L685.3 347.7L685.8 346.7L686.3 347.9L686.8 346.4L687.3 347.0L687.8 347.3L688.3 348.2L688.8 347.9L689.3 347.8L689.8 348.4L690.3 348.1L690.8 348.5L691.3 347.3L691.8 346.8L692.3 347.5L692.8 348.3L693.3 348.0L693.8 348.4L694.3 348.3L694.8 348.2L695.3 348.4L695.8 347.5L696.3 348.6L696.8 347.4L697.3 347.9L697.8 347.1L698.3 348.2L698.8 347.0L699.3 348.7L699.8 347.1L700.3 348.0L700.8 347.8L701.3 347.3L701.8 348.5L702.3 347.5L702.8 348.6L703.3 347.1L703.8 347.2L704.3 346.5L704.8 348.0L705.3 348.1L705.8 347.7L706.3 347.5L706.8 347.0L707.3 348.9L707.8 347.9L708.3 346.4L708.8 347.3L709.3 346.0L709.8 348.4L710.3 348.6L710.8 348.3L711.3 347.5L711.8 347.2L712.3 346.7L712.8 347.9L713.3 347.2L713.8 347.5L714.3 347.4L714.8 347.6L715.3 348.4L715.8 348.9L716.3 348.0L716.8 348.0L717.3 347.4L717.8 347.4L718.3 347.5L718.8 348.7L719.3 348.3L719.8 348.7L720.3 348.4L720.8 347.9L721.3 347.4L721.8 347.9L722.3 347.3L722.8 349.2L723.3 348.2L723.8 347.8L724.3 349.1L724.8 347.6L725.3 348.1L725.8 347.6L726.3 347.9L726.8 347.4L727.3 347.8L727.8 348.3L728.3 346.6L728.8 346.0L729.3 348.0L729.8 347.2L730.3 347.5L730.8 346.7L731.3 347.7L731.8 347.8L732.3 346.0L732.8 347.0L733.3 346.1L733.8 345.5L734.3 346.1L734.8 346.6L735.3 345.4L735.8 345.3L736.3 346.7L736.8 346.0L737.3 346.1L737.8 345.1L738.3 345.3L738.8 345.7L739.3 345.7L739.8 345.6L740.3 346.4L740.8 345.4L741.3 344.4L741.8 344.7L742.3 345.1L742.8 345.8L743.3 344.5L743.8 344.6L744.3 344.8L744.8 344.3L745.3 344.1L745.8 344.4L746.3 345.0L746.8 344.7L747.3 344.1L747.8 344.4L748.3 343.4L748.8 344.6L749.3 344.4L749.8 344.0L750.3 342.8L750.8 344.9L751.3 341.9L751.8 342.9L752.3 342.9L752.8 343.7L753.3 342.4L753.8 343.3L754.3 343.0L754.8 342.8L755.3 343.4L755.8 343.6L756.3 342.9L756.8 342.4L757.3 341.1L757.8 343.2L758.3 342.1L758.8 341.1L759.3 342.2L759.8 342.8L760.3 341.8L760.8 341.1L761.3 343.0L761.8 341.9L762.3 341.7L762.8 341.9L763.3 340.0L763.8 341.1L764.3 340.9L764.8 342.2L765.3 340.5L765.8 340.3L766.3 339.7L766.8 339.9L767.3 340.2L767.8 340.3L768.3 339.9L768.8 341.1L769.3 340.1L769.8 340.0L770.3 340.3L770.8 339.7L771.3 338.9L771.8 338.2L772.3 339.1L772.8 338.3L773.3 339.4L773.8 338.0L774.3 337.0L774.8 338.1L775.3 338.6L775.8 337.6L776.3 337.7L776.8 337.4L777.3 338.2L777.8 337.1L778.3 336.7L778.8 336.2L779.3 335.3L779.8 336.9L780.3 336.5L780.8 335.1L781.3 335.7L781.8 335.3L782.3 334.7L782.8 334.4L783.3 334.8L783.8 333.4L784.3 333.5L784.8 333.5L785.3 333.3L785.8 332.9L786.3 332.9L786.8 332.7L787.3 331.6L787.8 331.9L788.3 331.2L788.8 332.1L789.3 330.1L789.8 330.4L790.3 330.6L790.8 329.7L791.3 329.3L791.8 328.8L792.3 328.9L792.8 327.7L793.3 327.9L793.8 327.5L794.3 326.3L794.8 326.9L795.3 326.0L795.8 326.0L796.3 325.9L796.8 325.1L797.3 323.8L797.8 324.2L798.3 322.6L798.8 322.6L799.3 323.5L799.8 322.1L800.3 322.5L800.8 321.0L801.3 320.6L801.8 319.4L802.3 320.0L802.8 318.8L803.3 318.7L803.8 318.0L804.3 317.5L804.8 316.8L805.3 315.9L805.8 315.3L806.3 314.3L806.8 312.8L807.3 313.7L807.8 314.0L808.3 312.7L808.8 312.8L809.3 311.0L809.8 309.5L810.3 308.8L810.8 309.1L811.3 308.2L811.8 307.2L812.3 307.0L812.8 305.3L813.3 305.4L813.8 304.2L814.3 303.7L814.8 303.5L815.3 301.9L815.8 302.0L816.3 301.2L816.8 299.2L817.3 300.2L817.8 297.4L818.3 297.3L818.8 297.0L819.3 294.5L819.8 295.6L820.3 294.9L820.8 293.4L821.3 292.8L821.8 292.0L822.3 291.0L822.8 291.0L823.3 289.4L823.8 289.0L824.3 288.6L824.8 288.4L825.3 288.0L825.8 285.9L826.3 285.0L826.8 285.6L827.3 285.1L827.8 284.1L828.3 284.6L828.8 284.6L829.3 284.3L829.8 285.1L830.3 283.6L830.8 284.3L831.3 285.6L831.8 285.0L832.3 284.1L832.8 285.1L833.3 285.9L833.8 286.7L834.3 286.1L834.8 286.7L835.3 285.7L835.8 286.6L836.3 287.8L836.8 287.1L837.3 288.1L837.8 287.6L838.3 290.2L838.8 289.8L839.3 290.9L839.8 290.3L840.3 291.0L840.8 293.5L841.3 292.9L841.8 293.4L842.3 294.7L842.8 295.4L843.3 294.6L843.8 295.9L844.3 297.3L844.8 298.1L845.3 299.0L845.8 299.4L846.3 300.2L846.8 301.3L847.3 301.6L847.8 302.2L848.3 303.2L848.8 304.2L849.3 304.8L849.8 305.4L850.3 306.2L850.8 307.1L851.3 308.0L851.8 308.8L852.3 308.5L852.8 310.5L853.3 309.7L853.8 311.7L854.3 311.7L854.8 313.1L855.3 314.1L855.8 313.1L856.3 315.2L856.8 315.7L857.3 315.9L857.8 317.0L858.3 317.1L858.8 318.1L859.3 318.0L859.8 319.7L860.3 320.2L860.8 320.8L861.3 320.6L861.8 322.6L862.3 323.3L862.8 322.6L863.3 323.0L863.8 323.6L864.3 324.7L864.8 325.5L865.3 325.0L865.8 324.7L866.3 326.7L866.8 326.9L867.3 327.4L867.8 328.1L868.3 327.6L868.8 328.7L869.3 328.9L869.8 329.7L870.3 330.6L870.8 330.2L871.3 330.1L871.8 331.7L872.3 331.7L872.8 331.5L873.3 330.9L873.8 331.8L874.3 332.7L874.8 333.3L875.3 333.0L875.8 333.8L876.3 333.5L876.8 333.9L877.3 334.8L877.8 334.6L878.3 335.1L878.8 335.8L879.3 336.2L879.8 335.5L880.3 336.0L880.8 335.6L881.3 335.9L881.8 337.0L882.3 336.8L882.8 336.3L883.3 337.9L883.8 337.4L884.3 337.9L884.8 338.6L885.3 338.8L885.8 338.8L886.3 337.9L886.8 339.6L887.3 339.1L887.8 338.8L888.3 338.6L888.8 340.8L889.3 340.3L889.8 340.5L890.3 341.0L890.8 340.8L891.3 340.1L891.8 341.5L892.3 341.9L892.8 341.8L893.3 342.5L893.8 342.9L894.3 341.5L894.8 341.8L895.3 342.7L895.8 342.5L896.3 342.6L896.8 343.2L897.3 343.2L897.8 342.7L898.3 343.1L898.8 342.8L899.3 343.2L899.8 342.8L900.3 342.4L900.8 343.4L901.3 343.4L901.8 344.4L902.3 344.9L902.8 344.1L903.3 344.5L903.8 344.0L904.3 343.9L904.8 344.4L905.3 344.5L905.8 344.9L906.3 344.9L906.8 345.9L907.3 344.9L907.8 344.1L908.3 345.3L908.8 344.9L909.3 345.5L909.8 346.1L910.3 345.2L910.8 345.6L911.3 346.0L911.8 345.2L912.3 346.0L912.8 346.2L913.3 346.5L913.8 346.7L914.3 346.5L914.8 346.5L915.3 345.5L915.8 344.8L916.3 345.9L916.8 347.3L917.3 346.6L917.8 345.3L918.3 346.5L918.8 347.0L919.3 345.7L919.8 347.2L920.3 346.3L920.8 347.6L921.3 347.1L921.8 348.9L922.3 346.4L922.8 347.4L923.3 346.4L923.8 348.0L924.3 347.4L924.8 347.9L925.3 347.5L925.8 346.8L926.3 347.1L926.8 346.8L927.3 347.0L927.8 347.7L928.3 348.3L928.8 348.2L929.3 348.0L929.8 347.4L930.3 348.1L930.8 347.3L931.3 348.0L931.8 348.4L932.3 347.8L932.8 347.7L933.3 347.7L933.8 348.4L934.3 347.8L934.8 347.2L935.3 347.8L935.8 347.5L936.3 349.0L936.8 348.2L937.3 347.3L937.8 348.4L938.3 348.7L938.8 348.5L939.3 348.1L939.8 348.4L940.3 348.5L940.8 349.0L941.3 348.6L941.8 349.8L942.3 348.4L942.8 349.4L943.3 348.6L943.8 347.6L944.3 348.0L944.8 347.6L944.9 347.7"/>
<path class="curve" stroke="#3b6fe6" d="M46.3 628.5L46.8 625.7L47.3 627.3L47.8 626.6L48.3 626.4L48.8 626.4L49.3 625.1L49.8 625.9L50.3 625.3L50.8 627.4L51.3 625.4L51.8 624.7L52.3 624.4L52.8 623.9L53.3 623.3L53.8 623.4L54.3 623.5L54.8 622.8L55.3 623.1L55.8 622.0L56.3 621.6L56.8 621.8L57.3 620.6L57.8 619.3L58.3 618.8L58.8 618.5L59.3 618.7L59.8 616.8L60.3 616.3L60.8 616.7L61.3 615.3L61.8 615.4L62.3 616.0L62.8 615.6L63.3 615.2L63.8 615.4L64.3 613.3L64.8 615.4L65.3 614.1L65.8 613.6L66.3 614.6L66.8 614.8L67.3 614.0L67.8 613.6L68.3 614.1L68.8 614.0L69.3 614.8L69.8 614.4L70.3 614.0L70.8 614.5L71.3 613.6L71.8 613.2L72.3 614.0L72.8 613.9L73.3 613.4L73.8 613.0L74.3 613.6L74.8 612.0L75.3 613.8L75.8 613.6L76.3 612.3L76.8 613.3L77.3 612.7L77.8 613.6L78.3 612.0L78.8 612.6L79.3 613.5L79.8 613.7L80.3 611.8L80.8 612.7L81.3 613.2L81.8 612.6L82.3 613.8L82.8 612.2L83.3 613.1L83.8 612.2L84.3 613.6L84.8 612.8L85.3 612.5L85.8 611.7L86.3 613.7L86.8 613.1L87.3 613.1L87.8 613.2L88.3 612.8L88.8 612.2L89.3 612.0L89.8 612.0L90.3 613.2L90.8 611.5L91.3 612.0L91.8 612.1L92.3 612.4L92.8 612.6L93.3 611.5L93.8 611.1L94.3 612.1L94.8 612.8L95.3 612.5L95.8 612.1L96.3 611.8L96.8 612.1L97.3 611.7L97.8 612.3L98.3 611.3L98.8 611.8L99.3 611.7L99.8 612.0L100.3 611.8L100.8 613.1L101.3 612.4L101.8 612.4L102.3 610.3L102.8 611.2L103.3 611.0L103.8 611.6L104.3 609.9L104.8 611.9L105.3 611.8L105.8 610.3L106.3 610.5L106.8 610.5L107.3 611.0L107.8 611.3L108.3 612.0L108.8 610.7L109.3 611.2L109.8 610.8L110.3 611.7L110.8 611.0L111.3 611.3L111.8 609.9L112.3 610.3L112.8 609.9L113.3 611.1L113.8 610.6L114.3 609.9L114.8 609.7L115.3 610.2L115.8 609.4L116.3 609.1L116.8 609.8L117.3 610.8L117.8 609.0L118.3 608.5L118.8 607.6L119.3 606.8L119.8 607.0L120.3 606.2L120.8 604.5L121.3 603.5L121.8 602.0L122.3 600.3L122.8 596.7L123.3 593.8L123.8 590.2L124.3 585.6L124.8 581.6L125.3 576.9L125.8 572.0L126.3 568.9L126.8 566.5L127.3 565.3L127.8 565.3L128.3 565.5L128.8 567.4L129.3 567.0L129.8 570.7L130.3 572.8L130.8 576.8L131.3 581.1L131.8 584.7L132.3 587.1L132.8 588.6L133.3 591.3L133.8 591.8L134.3 592.8L134.8 593.7L135.3 592.8L135.8 594.3L136.3 593.5L136.8 593.9L137.3 592.4L137.8 591.1L138.3 589.4L138.8 587.6L139.3 585.3L139.8 584.9L140.3 583.9L140.8 584.3L141.3 583.0L141.8 584.4L142.3 584.3L142.8 585.2L143.3 586.5L143.8 588.1L144.3 591.2L144.8 594.3L145.3 596.1L145.8 598.3L146.3 600.0L146.8 600.2L147.3 601.0L147.8 601.4L148.3 601.3L148.8 603.1L149.3 601.9L149.8 603.4L150.3 603.1L150.8 603.8L151.3 603.2L151.8 602.8L152.3 603.5L152.8 603.0L153.3 603.3L153.8 603.4L154.3 603.3L154.8 603.2L155.3 602.7L155.8 602.9L156.3 601.5L156.8 602.4L157.3 601.5L157.8 602.5L158.3 602.2L158.8 599.9L159.3 600.7L159.8 600.1L160.3 599.1L160.8 599.4L161.3 598.0L161.8 596.4L162.3 596.2L162.8 595.1L163.3 593.9L163.8 591.7L164.3 590.9L164.8 588.6L165.3 584.6L165.8 581.6L166.3 578.5L166.8 573.6L167.3 569.4L167.8 562.9L168.3 557.7L168.8 554.3L169.3 551.5L169.8 550.4L170.3 547.7L170.8 547.0L171.3 546.7L171.8 546.3L172.3 548.4L172.8 548.0L173.3 550.4L173.8 551.9L174.3 554.6L174.8 557.3L175.3 563.3L175.8 566.6L176.3 570.4L176.8 572.7L177.3 575.6L177.8 578.9L178.3 581.6L178.8 583.7L179.3 586.1L179.8 587.7L180.3 588.9L180.8 591.0L181.3 592.4L181.8 593.4L182.3 595.3L182.8 596.9L183.3 597.5L183.8 598.2L184.3 599.8L184.8 601.3L185.3 600.7L185.8 601.3L186.3 601.7L186.8 603.0L187.3 601.7L187.8 603.3L188.3 604.2L188.8 603.4L189.3 605.0L189.8 604.7L190.3 604.3L190.8 605.0L191.3 604.1L191.8 604.8L192.3 606.3L192.8 604.9L193.3 606.6L193.8 605.6L194.3 606.3L194.8 605.8L195.3 604.6L195.8 605.7L196.3 606.2L196.8 605.5L197.3 605.5L197.8 606.5L198.3 606.0L198.8 605.5L199.3 606.1L199.8 607.1L200.3 606.3L200.8 607.2L201.3 607.6L201.8 606.7L202.3 606.1L202.8 606.0L203.3 606.8L203.8 607.3L204.3 607.0L204.8 607.1L205.3 606.5L205.8 606.9L206.3 606.5L206.8 606.5L207.3 605.9L207.8 605.7L208.3 606.3L208.8 605.9L209.3 605.9L209.8 606.8L210.3 606.3L210.8 607.9L211.3 606.7L211.8 605.7L212.3 606.4L212.8 606.1L213.3 605.4L213.8 606.4L214.3 605.2L214.8 603.8L215.3 605.9L215.8 605.0L216.3 606.1L216.8 604.7L217.3 604.3L217.8 605.8L218.3 604.1L218.8 604.7L219.3 605.2L219.8 604.2L220.3 603.9L220.8 603.8L221.3 604.0L221.8 602.8L222.3 603.4L222.8 603.1L223.3 603.9L223.8 602.1L224.3 601.5L224.8 602.2L225.3 601.3L225.8 601.5L226.3 601.2L226.8 601.6L227.3 600.3L227.8 600.4L228.3 598.9L228.8 599.7L229.3 600.9L229.8 599.5L230.3 599.3L230.8 598.9L231.3 599.8L231.8 599.4L232.3 598.5L232.8 599.4L233.3 598.9L233.8 599.0L234.3 598.0L234.8 599.1L235.3 598.0L235.8 597.4L236.3 596.8L236.8 596.5L237.3 596.6L237.8 595.3L238.3 595.3L238.8 594.2L239.3 593.6L239.8 592.2L240.3 590.5L240.8 588.1L241.3 587.9L241.8 586.6L242.3 583.5L242.8 579.5L243.3 574.0L243.8 569.0L244.3 564.3L244.8 562.2L245.3 558.4L245.8 555.8L246.3 554.4L246.8 554.4L247.3 555.0L247.8 554.9L248.3 555.5L248.8 558.8L249.3 561.0L249.8 563.0L250.3 565.8L250.8 569.3L251.3 572.5L251.8 575.9L252.3 577.6L252.8 580.9L253.3 582.1L253.8 584.8L254.3 584.1L254.8 587.1L255.3 588.6L255.8 589.1L256.3 590.6L256.8 591.6L257.3 592.3L257.8 592.4L258.3 593.4L258.8 594.8L259.3 595.5L259.8 595.5L260.3 596.0L260.8 596.6L261.3 597.6L261.8 596.8L262.3 597.0L262.8 598.2L263.3 597.8L263.8 598.3L264.3 598.9L264.8 599.4L265.3 598.7L265.8 600.0L266.3 598.7L266.8 600.2L267.3 599.2L267.8 599.5L268.3 600.8L268.8 600.3L269.3 600.2L269.8 600.6L270.3 601.2L270.8 601.0L271.3 601.1L271.8 601.8L272.3 600.9L272.8 601.1L273.3 601.1L273.8 602.2L274.3 602.1L274.8 602.3L275.3 601.6L275.8 601.6L276.3 602.2L276.8 601.5L277.3 602.3L277.8 602.3L278.3 601.5L278.8 601.9L279.3 601.9L279.8 603.0L280.3 603.5L280.8 602.0L281.3 602.1L281.8 600.8L282.3 602.3L282.8 602.2L283.3 601.6L283.8 602.7L284.3 601.4L284.8 602.2L285.3 602.5L285.8 601.7L286.3 602.9L286.8 603.1L287.3 601.7L287.8 601.7L288.3 602.8L288.8 602.5L289.3 601.8L289.8 602.2L290.3 602.2L290.8 602.0L291.3 602.3L291.8 601.8L292.3 602.3L292.8 601.8L293.3 601.0L293.8 600.9L294.3 600.7L294.8 599.9L295.3 598.4L295.8 599.2L296.3 598.4L296.8 598.9L297.3 597.6L297.8 597.4L298.3 596.8L298.8 597.1L299.3 595.7L299.8 594.9L300.3 594.7L300.8 593.7L301.3 593.5L301.8 592.8L302.3 592.4L302.8 592.6L303.3 590.5L303.8 589.9L304.3 589.1L304.8 589.0L305.3 587.5L305.8 587.6L306.3 588.2L306.8 589.0L307.3 589.4L307.8 589.9L308.3 590.5L308.8 592.1L309.3 593.2L309.8 593.1L310.3 593.6L310.8 594.3L311.3 594.1L311.8 595.0L312.3 595.5L312.8 596.4L313.3 596.7L313.8 596.4L314.3 598.2L314.8 598.8L315.3 598.0L315.8 598.6L316.3 598.7L316.8 599.2L317.3 598.1L317.8 600.1L318.3 599.0L318.8 600.2L319.3 599.7L319.8 599.6L320.3 599.9L320.8 600.6L321.3 599.7L321.8 600.1L322.3 600.2L322.8 599.6L323.3 601.4L323.8 601.0L324.3 600.7L324.8 601.5L325.3 600.2L325.8 600.8L326.3 601.8L326.8 601.4L327.3 599.5L327.8 598.8L328.3 600.2L328.8 601.4L329.3 600.5L329.8 600.6L330.3 601.1L330.8 600.2L331.3 600.8L331.8 601.1L332.3 600.9L332.8 600.8L333.3 600.2L333.8 600.8L334.3 600.2L334.8 601.2L335.3 601.9L335.8 600.0L336.3 599.1L336.8 600.1L337.3 600.5L337.8 600.8L338.3 600.8L338.8 599.7L339.3 599.7L339.8 600.8L340.3 599.4L340.8 600.6L341.3 599.8L341.8 600.3L342.3 600.3L342.8 600.2L343.3 600.2L343.8 599.1L344.3 599.7L344.8 599.5L345.3 599.6L345.8 600.0L346.3 599.1L346.8 598.7L347.3 598.6L347.8 598.8L348.3 599.3L348.8 598.3L349.3 599.3L349.8 598.7L350.3 598.2L350.8 597.5L351.3 598.2L351.8 598.4L352.3 596.8L352.8 598.4L353.3 598.5L353.8 597.6L354.3 597.5L354.8 598.4L355.3 597.5L355.8 596.1L356.3 596.4L356.8 596.0L357.3 595.8L357.8 594.2L358.3 595.7L358.8 594.6L359.3 594.7L359.8 594.2L360.3 594.4L360.8 593.4L361.3 592.7L361.8 593.0L362.3 593.1L362.8 591.6L363.3 592.1L363.8 590.8L364.3 589.6L364.8 590.1L365.3 587.9L365.8 588.2L366.3 586.4L366.8 586.1L367.3 584.2L367.8 583.4L368.3 583.4L368.8 581.6L369.3 580.3L369.8 578.7L370.3 577.9L370.8 575.5L371.3 574.5L371.8 574.0L372.3 572.5L372.8 571.5L373.3 570.9L373.8 569.9L374.3 569.1L374.8 569.5L375.3 568.5L375.8 568.1L376.3 566.9L376.8 566.5L377.3 566.1L377.8 567.0L378.3 566.3L378.8 567.7L379.3 568.9L379.8 570.1L380.3 570.6L380.8 570.6L381.3 572.5L381.8 572.7L382.3 574.4L382.8 574.3L383.3 575.4L383.8 576.8L384.3 576.3L384.8 577.5L385.3 576.6L385.8 576.6L386.3 577.8L386.8 578.2L387.3 577.0L387.8 577.3L388.3 576.4L388.8 576.9L389.3 577.4L389.8 576.6L390.3 576.0L390.8 575.2L391.3 575.8L391.8 575.7L392.3 575.2L392.8 574.6L393.3 573.2L393.8 574.3L394.3 572.5L394.8 571.6L395.3 571.2L395.8 568.6L396.3 568.8L396.8 567.6L397.3 566.8L397.8 566.2L398.3 564.3L398.8 561.4L399.3 560.6L399.8 559.0L400.3 557.1L400.8 554.3L401.3 552.1L401.8 551.4L402.3 549.5L402.8 547.5L403.3 544.6L403.8 544.7L404.3 540.1L404.8 539.7L405.3 539.4L405.8 536.7L406.3 535.7L406.8 534.0L407.3 534.6L407.8 532.2L408.3 532.3L408.8 531.7L409.3 530.7L409.8 531.7L410.3 530.5L410.8 531.2L411.3 532.0L411.8 532.2L412.3 533.3L412.8 534.2L413.3 534.2L413.8 534.7L414.3 535.7L414.8 536.9L415.3 538.8L415.8 539.6L416.3 541.5L416.8 542.7L417.3 543.8L417.8 546.2L418.3 546.6L418.8 548.8L419.3 551.3L419.8 551.5L420.3 553.9L420.8 554.7L421.3 557.1L421.8 558.3L422.3 560.6L422.8 562.0L423.3 563.9L423.8 566.1L424.3 566.5L424.8 567.9L425.3 568.6L425.8 569.6L426.3 570.3L426.8 570.7L427.3 572.8L427.8 574.6L428.3 574.8L428.8 575.1L429.3 577.2L429.8 576.8L430.3 577.5L430.8 577.9L431.3 578.7L431.8 579.8L432.3 581.7L432.8 581.1L433.3 581.2L433.8 582.1L434.3 582.9L434.8 582.6L435.3 584.2L435.8 585.1L436.3 585.4L436.8 586.1L437.3 585.5L437.8 585.7L438.3 587.9L438.8 588.2L439.3 587.1L439.8 588.5L440.3 588.8L440.8 589.5L441.3 589.7L441.8 589.6L442.3 590.3L442.8 590.7L443.3 590.9L443.8 590.1L444.3 589.8L444.8 591.4L445.3 591.2L445.8 592.6L446.3 593.1L446.8 593.1L447.3 593.0L447.8 593.5L448.3 594.4L448.8 593.5L449.3 594.7L449.8 594.7L450.3 594.7L450.8 595.5L451.3 594.4L451.8 595.5L452.3 594.6L452.8 594.8L453.3 594.7L453.8 595.7L454.3 595.0L454.8 595.7L455.3 595.2L455.8 596.6L456.3 597.1L456.8 596.3L457.3 597.2L457.8 596.6L458.3 597.7L458.8 596.5L459.3 595.6L459.8 597.5L460.3 596.6L460.8 596.1L461.3 596.3L461.8 595.8L462.3 596.6L462.8 596.1L463.3 597.6L463.8 597.1L464.3 595.7L464.8 595.8L465.3 596.3L465.8 595.5L466.3 596.6L466.8 596.6L467.3 596.2L467.8 596.3L468.3 596.9L468.8 597.4L469.3 597.4L469.8 596.6L470.3 597.0L470.8 596.1L471.3 596.7L471.8 595.9L472.3 596.9L472.8 595.7L473.3 595.8L473.8 596.4L474.3 596.7L474.8 595.5L475.3 596.0L475.8 596.4L476.3 596.4L476.8 595.7L477.3 596.3L477.8 596.0L478.3 596.9L478.8 596.4L479.3 595.2L479.8 594.7L480.3 595.9L480.8 596.5L481.3 595.8L481.8 596.1L482.3 595.2L482.8 594.6L483.3 595.8L483.8 595.3L484.3 595.5L484.8 594.2L485.3 595.0L485.8 594.4L486.3 595.1L486.8 594.1L487.3 594.0L487.8 593.9L488.3 594.8L488.8 594.0L489.3 593.4L489.8 593.1L490.3 593.0L490.8 594.3L491.3 592.2L491.8 592.6L492.3 593.3L492.8 593.4L493.3 592.4L493.8 592.8L494.3 592.6L494.8 592.5L495.3 591.7L495.8 592.5L496.3 591.4L496.8 592.0L497.3 590.3L497.8 591.2L498.3 589.8L498.8 589.4L499.3 590.4L499.8 589.5L500.3 590.0L500.8 589.0L501.3 590.4L501.8 589.3L502.3 588.4L502.8 589.0L503.3 589.3L503.8 588.1L504.3 588.7L504.8 589.4L505.3 588.6L505.8 587.9L506.3 587.5L506.8 588.0L507.3 586.6L507.8 585.6L508.3 586.9L508.8 586.5L509.3 588.0L509.8 586.9L510.3 586.1L510.8 585.8L511.3 586.7L511.8 585.8L512.3 585.8L512.8 586.1L513.3 586.1L513.8 586.1L514.3 586.1L514.8 586.9L515.3 587.2L515.8 585.4L516.3 588.0L516.8 586.7L517.3 587.6L517.8 586.6L518.3 587.5L518.8 587.7L519.3 587.8L519.8 588.5L520.3 588.6L520.8 587.9L521.3 588.6L521.8 589.3L522.3 589.4L522.8 589.0L523.3 589.1L523.8 589.3L524.3 588.9L524.8 588.9L525.3 590.7L525.8 589.7L526.3 590.1L526.8 589.7L527.3 591.0L527.8 591.3L528.3 590.3L528.8 590.8L529.3 590.2L529.8 591.7L530.3 591.3L530.8 590.4L531.3 591.7L531.8 591.3L532.3 591.4L532.8 591.5L533.3 590.9L533.8 591.1L534.3 591.9L534.8 591.6L535.3 591.1L535.8 592.9L536.3 591.7L536.8 591.6L537.3 591.6L537.8 592.5L538.3 592.8L538.8 592.4L539.3 592.9L539.8 591.6L540.3 592.3L540.8 592.3L541.3 592.7L541.8 593.0L542.3 591.6L542.8 594.6L543.3 592.4L543.8 593.1L544.3 593.4L544.8 593.4L545.3 593.1L545.8 591.2L546.3 592.3L546.8 593.4L547.3 592.4L547.8 592.3L548.3 591.5L548.8 593.5L549.3 593.1L549.8 592.2L550.3 592.6L550.8 592.6L551.3 592.0L551.8 592.4L552.3 592.7L552.8 592.8L553.3 593.2L553.8 592.4L554.3 592.1L554.8 592.5L555.3 591.9L555.8 591.5L556.3 592.8L556.8 591.9L557.3 592.1L557.8 592.4L558.3 591.3L558.8 592.2L559.3 592.1L559.8 591.7L560.3 592.0L560.8 591.3L561.3 590.4L561.8 591.4L562.3 591.0L562.8 592.0L563.3 591.6L563.8 591.1L564.3 591.4L564.8 592.1L565.3 592.0L565.8 591.5L566.3 591.5L566.8 591.0L567.3 591.1L567.8 591.4L568.3 591.0L568.8 591.2L569.3 590.3L569.8 589.9L570.3 589.9L570.8 590.6L571.3 591.6L571.8 591.4L572.3 590.1L572.8 589.7L573.3 591.1L573.8 590.8L574.3 589.7L574.8 591.1L575.3 590.5L575.8 591.1L576.3 590.5L576.8 590.8L577.3 590.4L577.8 589.6L578.3 590.0L578.8 589.7L579.3 590.5L579.8 589.4L580.3 589.1L580.8 590.3L581.3 590.5L581.8 590.6L582.3 590.4L582.8 588.8L583.3 589.2L583.8 589.3L584.3 589.5L584.8 588.2L585.3 589.4L585.8 589.5L586.3 588.8L586.8 589.3L587.3 589.9L587.8 589.2L588.3 589.7L588.8 589.6L589.3 589.2L589.8 589.1L590.3 588.6L590.8 589.5L591.3 588.4L591.8 588.3L592.3 589.0L592.8 588.1L593.3 588.7L593.8 589.1L594.3 588.4L594.8 588.4L595.3 588.8L595.8 588.7L596.3 587.3L596.8 587.4L597.3 588.9L597.8 588.3L598.3 586.8L598.8 587.2L599.3 588.0L599.8 587.4L600.3 588.2L600.8 588.0L601.3 588.2L601.8 587.2L602.3 588.2L602.8 589.0L603.3 587.4L603.8 588.6L604.3 588.4L604.8 588.2L605.3 587.8L605.8 587.1L606.3 587.3L606.8 588.2L607.3 588.3L607.8 588.5L608.3 588.3L608.8 588.3L609.3 587.5L609.8 587.0L610.3 587.8L610.8 588.0L611.3 587.8L611.8 586.8L612.3 587.4L612.8 586.8L613.3 587.8L613.8 587.1L614.3 587.6L614.8 587.8L615.3 587.7L615.8 588.4L616.3 587.0L616.8 586.4L617.3 588.2L617.8 588.4L618.3 588.4L618.8 587.7L619.3 587.9L619.8 587.6L620.3 586.8L620.8 587.2L621.3 587.8L621.8 587.2L622.3 588.6L622.8 586.6L623.3 587.2L623.8 588.1L624.3 587.0L624.8 586.7L625.3 586.5L625.8 586.8L626.3 588.0L626.8 587.3L627.3 587.2L627.8 586.5L628.3 587.1L628.8 586.6L629.3 585.8L629.8 585.9L630.3 586.1L630.8 586.5L631.3 585.6L631.8 585.8L632.3 586.5L632.8 584.6L633.3 584.2L633.8 585.3L634.3 584.7L634.8 584.2L635.3 584.2L635.8 583.7L636.3 584.0L636.8 583.3L637.3 583.7L637.8 582.3L638.3 582.2L638.8 582.4L639.3 581.8L639.8 582.1L640.3 581.4L640.8 580.8L641.3 580.8L641.8 580.1L642.3 579.1L642.8 579.0L643.3 578.9L643.8 578.7L644.3 578.7L644.8 578.8L645.3 578.3L645.8 578.7L646.3 578.2L646.8 577.1L647.3 577.9L647.8 577.3L648.3 576.1L648.8 576.3L649.3 576.5L649.8 575.7L650.3 575.9L650.8 575.3L651.3 575.3L651.8 574.4L652.3 574.6L652.8 573.9L653.3 574.3L653.8 572.7L654.3 573.7L654.8 574.1L655.3 573.5L655.8 573.0L656.3 573.1L656.8 572.2L657.3 572.0L657.8 572.2L658.3 572.1L658.8 572.6L659.3 571.4L659.8 572.4L660.3 570.7L660.8 571.0L661.3 571.3L661.8 571.9L662.3 570.8L662.8 569.8L663.3 571.1L663.8 570.8L664.3 570.1L664.8 570.0L665.3 570.2L665.8 570.6L666.3 570.9L666.8 569.7L667.3 571.9L667.8 570.5L668.3 570.3L668.8 570.9L669.3 570.6L669.8 571.9L670.3 571.2L670.8 570.3L671.3 570.3L671.8 570.2L672.3 570.3L672.8 570.9L673.3 570.2L673.8 571.5L674.3 570.5L674.8 570.4L675.3 571.1L675.8 569.4L676.3 570.0L676.8 570.9L677.3 570.5L677.8 570.5L678.3 570.8L678.8 570.2L679.3 570.4L679.8 569.7L680.3 569.4L680.8 571.3L681.3 570.0L681.8 570.1L682.3 571.3L682.8 571.1L683.3 570.2L683.8 570.2L684.3 570.5L684.8 569.9L685.3 570.8L685.8 570.6L686.3 570.5L686.8 570.9L687.3 570.9L687.8 571.5L688.3 571.3L688.8 569.4L689.3 570.9L689.8 569.7L690.3 569.5L690.8 570.7L691.3 569.9L691.8 570.1L692.3 570.9L692.8 569.9L693.3 569.7L693.8 570.4L694.3 571.0L694.8 570.5L695.3 569.3L695.8 569.9L696.3 570.1L696.8 571.3L697.3 570.7L697.8 570.7L698.3 570.9L698.8 570.1L699.3 570.6L699.8 570.6L700.3 569.8L700.8 570.4L701.3 570.8L701.8 569.8L702.3 571.0L702.8 571.0L703.3 571.2L703.8 570.3L704.3 570.8L704.8 571.7L705.3 571.4L705.8 570.5L706.3 571.2L706.8 572.1L707.3 571.4L707.8 571.9L708.3 573.4L708.8 572.1L709.3 572.3L709.8 572.1L710.3 572.5L710.8 574.0L711.3 573.3L711.8 572.9L712.3 573.4L712.8 574.2L713.3 574.8L713.8 574.1L714.3 575.1L714.8 574.4L715.3 574.9L715.8 575.0L716.3 575.1L716.8 574.4L717.3 574.6L717.8 575.0L718.3 573.9L718.8 574.7L719.3 574.9L719.8 575.2L720.3 574.5L720.8 574.4L721.3 574.6L721.8 574.0L722.3 574.3L722.8 574.6L723.3 574.5L723.8 573.7L724.3 574.1L724.8 573.0L725.3 574.6L725.8 573.8L726.3 574.1L726.8 573.2L727.3 573.6L727.8 573.8L728.3 573.9L728.8 572.3L729.3 573.4L729.8 572.6L730.3 572.0L730.8 572.5L731.3 571.9L731.8 571.6L732.3 571.2L732.8 571.5L733.3 571.1L733.8 570.8L734.3 570.0L734.8 570.0L735.3 570.2L735.8 570.5L736.3 569.4L736.8 569.9L737.3 568.8L737.8 567.8L738.3 568.5L738.8 567.3L739.3 567.8L739.8 567.9L740.3 566.8L740.8 566.7L741.3 567.9L741.8 566.3L742.3 566.1L742.8 566.1L743.3 565.3L743.8 565.1L744.3 565.1L744.8 563.2L745.3 565.2L745.8 563.5L746.3 563.2L746.8 563.9L747.3 563.3L747.8 562.3L748.3 562.9L748.8 561.9L749.3 561.9L749.8 561.2L750.3 561.4L750.8 561.8L751.3 561.4L751.8 561.3L752.3 561.4L752.8 560.6L753.3 560.0L753.8 560.0L754.3 560.9L754.8 559.8L755.3 559.7L755.8 559.2L756.3 559.2L756.8 559.1L757.3 558.7L757.8 558.4L758.3 557.8L758.8 557.6L759.3 558.1L759.8 558.0L760.3 557.9L760.8 557.2L761.3 556.5L761.8 557.1L762.3 556.8L762.8 555.4L763.3 556.5L763.8 556.1L764.3 556.5L764.8 554.6L765.3 554.2L765.8 555.2L766.3 553.4L766.8 553.8L767.3 553.3L767.8 553.0L768.3 552.2L768.8 552.9L769.3 553.3L769.8 552.6L770.3 552.3L770.8 551.4L771.3 552.1L771.8 551.2L772.3 551.0L772.8 549.1L773.3 549.7L773.8 548.3L774.3 548.7L774.8 548.1L775.3 546.8L775.8 547.0L776.3 547.0L776.8 546.1L777.3 545.6L777.8 544.2L778.3 543.7L778.8 542.9L779.3 543.0L779.8 543.0L780.3 541.9L780.8 541.0L781.3 539.7L781.8 540.0L782.3 538.9L782.8 537.2L783.3 536.7L783.8 536.8L784.3 535.7L784.8 536.5L785.3 534.8L785.8 533.5L786.3 533.1L786.8 533.6L787.3 531.4L787.8 531.7L788.3 530.8L788.8 530.7L789.3 529.4L789.8 528.1L790.3 527.9L790.8 526.9L791.3 526.6L791.8 525.2L792.3 525.5L792.8 523.5L793.3 522.9L793.8 521.4L794.3 520.9L794.8 519.8L795.3 518.8L795.8 518.1L796.3 516.1L796.8 514.7L797.3 514.6L797.8 512.5L798.3 510.9L798.8 510.6L799.3 509.0L799.8 505.6L800.3 505.5L800.8 504.7L801.3 503.3L801.8 501.0L802.3 500.7L802.8 497.8L803.3 496.5L803.8 495.1L804.3 493.4L804.8 492.2L805.3 490.7L805.8 488.3L806.3 487.5L806.8 484.5L807.3 483.1L807.8 482.4L808.3 479.7L808.8 478.4L809.3 475.7L809.8 473.9L810.3 472.1L810.8 470.4L811.3 468.1L811.8 466.4L812.3 464.8L812.8 463.0L813.3 460.4L813.8 458.6L814.3 456.6L814.8 453.3L815.3 450.8L815.8 450.4L816.3 448.0L816.8 445.0L817.3 442.8L817.8 439.7L818.3 437.0L818.8 435.5L819.3 432.0L819.8 430.8L820.3 427.2L820.8 425.1L821.3 423.3L821.8 420.6L822.3 416.7L822.8 414.8L823.3 410.9L823.8 408.3L824.3 406.0L824.8 403.7L825.3 399.7L825.8 397.7L826.3 395.1L826.8 392.3L827.3 391.2L827.8 390.4L828.3 388.0L828.8 386.9L829.3 385.7L829.8 383.6L830.3 383.6L830.8 382.6L831.3 381.6L831.8 380.5L832.3 378.6L832.8 377.9L833.3 377.2L833.8 376.6L834.3 376.3L834.8 377.3L835.3 377.9L835.8 377.1L836.3 378.5L836.8 377.9L837.3 379.2L837.8 379.8L838.3 380.4L838.8 382.5L839.3 383.7L839.8 384.6L840.3 385.8L840.8 386.9L841.3 388.8L841.8 390.2L842.3 392.4L842.8 393.5L843.3 396.7L843.8 399.6L844.3 403.0L844.8 406.0L845.3 408.7L845.8 411.4L846.3 414.1L846.8 418.6L847.3 423.1L847.8 426.9L848.3 428.1L848.8 432.6L849.3 436.2L849.8 438.9L850.3 442.6L850.8 445.5L851.3 448.0L851.8 451.0L852.3 452.8L852.8 455.7L853.3 458.2L853.8 461.6L854.3 462.4L854.8 465.4L855.3 468.1L855.8 469.7L856.3 472.2L856.8 473.3L857.3 475.8L857.8 478.0L858.3 480.6L858.8 481.6L859.3 483.8L859.8 484.8L860.3 486.7L860.8 489.5L861.3 490.7L861.8 493.1L862.3 494.5L862.8 497.1L863.3 499.1L863.8 499.0L864.3 502.3L864.8 503.1L865.3 504.8L865.8 506.0L866.3 508.0L866.8 508.4L867.3 510.2L867.8 511.6L868.3 513.6L868.8 515.4L869.3 516.7L869.8 517.8L870.3 518.6L870.8 519.2L871.3 521.7L871.8 522.8L872.3 524.2L872.8 526.0L873.3 526.2L873.8 527.4L874.3 527.3L874.8 530.2L875.3 530.9L875.8 531.6L876.3 533.4L876.8 533.6L877.3 534.9L877.8 537.4L878.3 537.7L878.8 538.8L879.3 539.7L879.8 540.5L880.3 541.2L880.8 543.3L881.3 542.8L881.8 544.2L882.3 544.5L882.8 545.3L883.3 544.9L883.8 546.0L884.3 548.8L884.8 549.6L885.3 549.2L885.8 550.2L886.3 551.3L886.8 551.1L887.3 553.4L887.8 552.5L888.3 553.4L888.8 552.9L889.3 556.0L889.8 555.9L890.3 557.4L890.8 556.6L891.3 558.0L891.8 558.4L892.3 559.1L892.8 560.8L893.3 561.5L893.8 561.5L894.3 561.0L894.8 562.2L895.3 562.9L895.8 562.9L896.3 563.3L896.8 563.7L897.3 563.3L897.8 564.3L898.3 565.5L898.8 564.4L899.3 565.3L899.8 566.1L900.3 565.2L900.8 566.2L901.3 565.6L901.8 566.6L902.3 566.4L902.8 567.0L903.3 567.5L903.8 567.9L904.3 568.2L904.8 567.1L905.3 569.7L905.8 568.8L906.3 568.6L906.8 569.1L907.3 569.8L907.8 569.3L908.3 569.8L908.8 570.0L909.3 570.8L909.8 570.2L910.3 571.1L910.8 571.2L911.3 571.1L911.8 572.1L912.3 571.5L912.8 571.0L913.3 572.0L913.8 572.0L914.3 572.1L914.8 572.4L915.3 573.8L915.8 572.7L916.3 572.9L916.8 572.7L917.3 573.7L917.8 573.0L918.3 572.7L918.8 572.6L919.3 573.7L919.8 574.0L920.3 572.7L920.8 573.3L921.3 574.2L921.8 574.6L922.3 573.3L922.8 573.9L923.3 574.7L923.8 574.0L924.3 574.2L924.8 574.2L925.3 573.9L925.8 574.8L926.3 575.0L926.8 574.1L927.3 575.0L927.8 575.7L928.3 575.3L928.8 575.8L929.3 575.0L929.8 576.2L930.3 575.0L930.8 576.6L931.3 575.4L931.8 575.3L932.3 575.2L932.8 575.6L933.3 575.6L933.8 575.6L934.3 575.8L934.8 576.5L935.3 576.6L935.8 576.0L936.3 577.0L936.8 575.7L937.3 575.8L937.8 575.8L938.3 576.8L938.8 575.7L939.3 575.8L939.8 577.4L940.3 577.7L940.8 577.6L941.3 576.0L941.8 576.9L942.3 577.5L942.8 577.1L943.3 576.2L943.8 577.0L944.3 576.3L944.8 576.7L944.9 578.6"/>
</g>
<path class="guide" stroke-dasharray="17.3 16.0" d="M128.2 637.7 V62.6"/>
<path class="guide" stroke-dasharray="17.3 16.0" d="M140.3 637.8 V115.0"/>
<path class="guide" stroke-dasharray="17.3 16.0" d="M170.9 637.0 V115.0"/>
<path class="guide" stroke-dasharray="17.3 16.0" d="M246.8 635.1 V113.0"/>
<path class="guide" stroke-dasharray="17.3 16.0" d="M306.6 634.8 V113.0"/>
<path class="guide" stroke-dasharray="17.3 16.0" d="M376.6 634.6 V113.0"/>
<path class="guide" stroke-dasharray="17.3 16.0" d="M410.6 634.6 V58.5"/>
<path class="guide" stroke-dasharray="17.3 16.0" d="M834.9 632.7 V55.6"/>
<path d="M110.5 667.5 V654.4" stroke="#000" stroke-width="4.1" fill="none"/>
<g transform="translate(110.1 696.2) scale(1 1.035)"><text class="tick" style="font-size:30.7px;text-anchor:start" x="-25.60" y="0">200</text></g>
<path d="M238.9 667.5 V654.4" stroke="#000" stroke-width="4.1" fill="none"/>
<g transform="translate(238.5 696.2) scale(1 1.035)"><text class="tick" style="font-size:30.7px;text-anchor:start" x="-25.60" y="0">400</text></g>
<path d="M367.3 667.5 V654.4" stroke="#000" stroke-width="4.1" fill="none"/>
<g transform="translate(366.9 696.2) scale(1 1.035)"><text class="tick" style="font-size:30.7px;text-anchor:start" x="-25.60" y="0">600</text></g>
<path d="M495.7 667.5 V654.4" stroke="#000" stroke-width="4.1" fill="none"/>
<g transform="translate(495.3 696.2) scale(1 1.035)"><text class="tick" style="font-size:30.7px;text-anchor:start" x="-25.60" y="0">800</text></g>
<path d="M624.1 667.5 V654.4" stroke="#000" stroke-width="4.1" fill="none"/>
<g transform="translate(623.7 696.2) scale(1 1.035)"><path transform="translate(-34.14 0) scale(0.01499 -0.01447)" d="M763 0H583V1147Q518 1085 412.5 1023T223 930V1104Q374 1175 487 1276T647 1472H763Z"/><text class="tick" style="font-size:30.7px;text-anchor:start" x="-17.07" y="0">000</text></g>
<path d="M752.5 667.5 V654.4" stroke="#000" stroke-width="4.1" fill="none"/>
<g transform="translate(752.1 696.2) scale(1 1.035)"><path transform="translate(-34.14 0) scale(0.01499 -0.01447)" d="M763 0H583V1147Q518 1085 412.5 1023T223 930V1104Q374 1175 487 1276T647 1472H763Z"/><text class="tick" style="font-size:30.7px;text-anchor:start" x="-17.07" y="0">200</text></g>
<path d="M880.9 667.5 V654.4" stroke="#000" stroke-width="4.1" fill="none"/>
<g transform="translate(880.5 696.2) scale(1 1.035)"><path transform="translate(-34.14 0) scale(0.01499 -0.01447)" d="M763 0H583V1147Q518 1085 412.5 1023T223 930V1104Q374 1175 487 1276T647 1472H763Z"/><text class="tick" style="font-size:30.7px;text-anchor:start" x="-17.07" y="0">400</text></g>
<g transform="translate(102.3 56.6) scale(1 1.035)"><text class="mode" style="font-size:30.7px;text-anchor:start" x="0.00" y="0">A</text><path transform="translate(20.48 0) scale(0.01499 -0.01447)" d="M763 0H583V1147Q518 1085 412.5 1023T223 930V1104Q374 1175 487 1276T647 1472H763Z"/><text class="mode" style="font-size:30.7px;text-anchor:start" x="37.55" y="0">g</text></g>
<g transform="translate(157.7 83.5) scale(1 1.035)"><text class="mode" style="font-size:30.7px;text-anchor:start" x="0.00" y="0">Eg</text></g>
<g transform="translate(130.8 109.0) scale(1 1.035)"><text class="mode" style="font-size:30.7px;text-anchor:start" x="0.00" y="0">Eg</text></g>
<g transform="translate(231.6 110.6) scale(1 1.035)"><text class="mode" style="font-size:30.7px;text-anchor:start" x="0.00" y="0">Eg</text></g>
<g transform="translate(282.3 116.7) scale(1 1.035)"><text class="mode" style="font-size:30.7px;text-anchor:start" x="0.00" y="0">A</text><path transform="translate(20.48 0) scale(0.01499 -0.01447)" d="M763 0H583V1147Q518 1085 412.5 1023T223 930V1104Q374 1175 487 1276T647 1472H763Z"/><text class="mode" style="font-size:30.7px;text-anchor:start" x="37.55" y="0">g</text></g>
<g transform="translate(358.1 104.8) scale(1 1.035)"><text class="mode" style="font-size:30.7px;text-anchor:start" x="0.00" y="0">Eg</text></g>
<g transform="translate(385.5 54.1) scale(1 1.035)"><path transform="translate(0.00 0) scale(0.01499 -0.01447)" d="M763 0H583V1147Q518 1085 412.5 1023T223 930V1104Q374 1175 487 1276T647 1472H763Z"/><text class="mode" style="font-size:30.7px;text-anchor:start" x="17.07" y="0">LO</text></g>
<g transform="translate(806.8 48.3) scale(1 1.035)"><text class="mode" style="font-size:30.7px;text-anchor:start" x="0.00" y="0">2LO</text></g>
<g transform="translate(123.4 185.4) rotate(-90) scale(1 1.035)"><text class="peak" style="font-size:30.4px;text-anchor:start" x="0.00" y="0">230</text></g>
<g transform="translate(200.9 174.0) rotate(-90) scale(1 1.035)"><text class="peak" style="font-size:30.4px;text-anchor:start" x="0.00" y="0">300</text></g>
<g transform="translate(272.4 195.8) rotate(-90) scale(1 1.035)"><text class="peak" style="font-size:30.4px;text-anchor:start" x="0.00" y="0">4</text><path fill="#ff0a0a" transform="translate(16.90 0) scale(0.01484 -0.01432)" d="M763 0H583V1147Q518 1085 412.5 1023T223 930V1104Q374 1175 487 1276T647 1472H763Z"/><text class="peak" style="font-size:30.4px;text-anchor:start" x="33.80" y="0">8</text></g>
<g transform="translate(334.9 190.2) rotate(-90) scale(1 1.035)"><text class="peak" style="font-size:30.4px;text-anchor:start" x="0.00" y="0">5</text><path fill="#ff0a0a" transform="translate(16.90 0) scale(0.01484 -0.01432)" d="M763 0H583V1147Q518 1085 412.5 1023T223 930V1104Q374 1175 487 1276T647 1472H763Z"/><text class="peak" style="font-size:30.4px;text-anchor:start" x="33.80" y="0">4</text></g>
<g transform="translate(401.9 163.2) rotate(-90) scale(1 1.035)"><text class="peak" style="font-size:30.4px;text-anchor:start" x="0.00" y="0">628</text></g>
<g transform="translate(455.5 126.5) rotate(-90) scale(1 1.035)"><text class="peak" style="font-size:30.4px;text-anchor:start" x="0.00" y="0">680</text></g>
<g transform="translate(866.6 124.0) rotate(-90) scale(1 1.035)"><path fill="#ff0a0a" transform="translate(0.00 0) scale(0.01484 -0.01432)" d="M763 0H583V1147Q518 1085 412.5 1023T223 930V1104Q374 1175 487 1276T647 1472H763Z"/><text class="peak" style="font-size:30.4px;text-anchor:start" x="16.90" y="0">353</text></g>
<g transform="translate(120.3 325.1) rotate(-90) scale(1 1.035)"><text class="peak" style="font-size:30.4px;text-anchor:start" x="0.00" y="0">225</text></g>
<g transform="translate(197.2 326.5) rotate(-90) scale(1 1.035)"><text class="peak" style="font-size:30.4px;text-anchor:start" x="0.00" y="0">293</text></g>
<g transform="translate(275.5 353.3) rotate(-90) scale(1 1.035)"><text class="peak" style="font-size:30.4px;text-anchor:start" x="0.00" y="0">408</text></g>
<g transform="translate(336.2 353.3) rotate(-90) scale(1 1.035)"><text class="peak" style="font-size:30.4px;text-anchor:start" x="0.00" y="0">497</text></g>
<g transform="translate(373.0 350.7) rotate(-90) scale(1 1.035)"><text class="peak" style="font-size:30.4px;text-anchor:start" x="0.00" y="0">6</text><path fill="#ff0a0a" transform="translate(16.90 0) scale(0.01484 -0.01432)" d="M763 0H583V1147Q518 1085 412.5 1023T223 930V1104Q374 1175 487 1276T647 1472H763Z"/><text class="peak" style="font-size:30.4px;text-anchor:start" x="33.80" y="0">2</text></g>
<g transform="translate(443.5 337.4) rotate(-90) scale(1 1.035)"><text class="peak" style="font-size:30.4px;text-anchor:start" x="0.00" y="0">662</text></g>
<g transform="translate(864.6 289.6) rotate(-90) scale(1 1.035)"><path fill="#ff0a0a" transform="translate(0.00 0) scale(0.01484 -0.01432)" d="M763 0H583V1147Q518 1085 412.5 1023T223 930V1104Q374 1175 487 1276T647 1472H763Z"/><text class="peak" style="font-size:30.4px;text-anchor:start" x="16.90" y="0">322</text></g>
<g transform="translate(122.3 574.7) rotate(-90) scale(1 1.035)"><text class="peak" style="font-size:30.4px;text-anchor:start" x="0.00" y="0">228</text></g>
<g transform="translate(166.6 583.1) rotate(-90) scale(1 1.035)"><text class="peak" style="font-size:30.4px;text-anchor:start" x="0.00" y="0">247</text></g>
<g transform="translate(197.8 550.5) rotate(-90) scale(1 1.035)"><text class="peak" style="font-size:30.4px;text-anchor:start" x="0.00" y="0">294</text></g>
<g transform="translate(275.0 556.3) rotate(-90) scale(1 1.035)"><text class="peak" style="font-size:30.4px;text-anchor:start" x="0.00" y="0">4</text><path fill="#ff0a0a" transform="translate(16.90 0) scale(0.01484 -0.01432)" d="M763 0H583V1147Q518 1085 412.5 1023T223 930V1104Q374 1175 487 1276T647 1472H763Z"/><path fill="#ff0a0a" transform="translate(33.80 0) scale(0.01484 -0.01432)" d="M763 0H583V1147Q518 1085 412.5 1023T223 930V1104Q374 1175 487 1276T647 1472H763Z"/></g>
<g transform="translate(333.9 589.0) rotate(-90) scale(1 1.035)"><text class="peak" style="font-size:30.4px;text-anchor:start" x="0.00" y="0">504</text></g>
<g transform="translate(372.3 562.8) rotate(-90) scale(1 1.035)"><text class="peak" style="font-size:30.4px;text-anchor:start" x="0.00" y="0">6</text><path fill="#ff0a0a" transform="translate(16.90 0) scale(0.01484 -0.01432)" d="M763 0H583V1147Q518 1085 412.5 1023T223 930V1104Q374 1175 487 1276T647 1472H763Z"/><text class="peak" style="font-size:30.4px;text-anchor:start" x="33.80" y="0">4</text></g>
<g transform="translate(444.8 538.0) rotate(-90) scale(1 1.035)"><text class="peak" style="font-size:30.4px;text-anchor:start" x="0.00" y="0">668</text></g>
<g transform="translate(867.2 397.1) rotate(-90) scale(1 1.035)"><path fill="#ff0a0a" transform="translate(0.00 0) scale(0.01484 -0.01432)" d="M763 0H583V1147Q518 1085 412.5 1023T223 930V1104Q374 1175 487 1276T647 1472H763Z"/><text class="peak" style="font-size:30.4px;text-anchor:start" x="16.90" y="0">327</text></g>
<text class="ser" x="892.4" y="162.0">a</text>
<text class="ser" x="890.7" y="333.6">b</text>
<text class="ser" x="892.4" y="540.4">c</text>
<text class="axt" style="font-size:43.8px" x="294.4" y="736.6">Wavenumber/cm</text>
<g transform="translate(623.0 719.1)"><text class="axt" style="font-size:31px;text-anchor:start" x="0.00" y="0">-</text><path transform="translate(10.32 0) scale(0.01514 -0.01461)" d="M763 0H583V1147Q518 1085 412.5 1023T223 930V1104Q374 1175 487 1276T647 1472H763Z"/></g>
<text class="axt" transform="translate(33.3 489.7) rotate(-90)">Raman Intensity</text>
</svg>
</body>
</html>
